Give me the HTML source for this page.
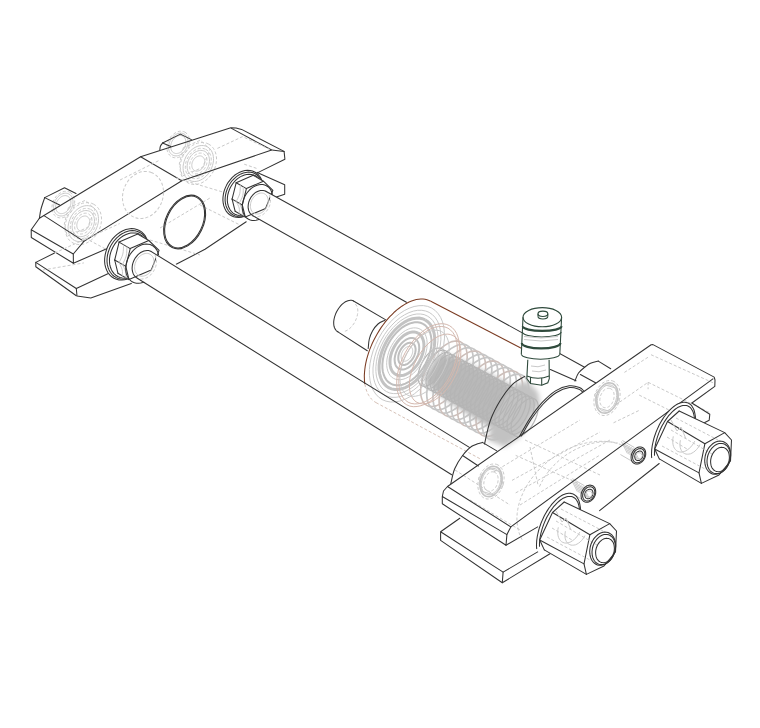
<!DOCTYPE html>
<html><head><meta charset="utf-8"><style>
html,body{margin:0;padding:0;background:#fff;}
svg{display:block;}
.k{fill:none;stroke:#333;stroke-width:1.05;stroke-linejoin:round;stroke-linecap:round;}
.g{fill:none;stroke:#c9c9c9;stroke-width:1;}
.gd{fill:none;stroke:#c9c9c9;stroke-width:1;stroke-dasharray:3 2;}
.b{fill:none;stroke:#7a3b22;stroke-width:1.05;}
.v{fill:none;stroke:#2f4a3c;stroke-width:1.1;}
.wf{fill:#fff;stroke:none;}
.gf{fill:#b9b9b9;stroke:none;}
.gf2{fill:#c2c2c2;stroke:none;}
.gc{fill:none;stroke:#c6c6c6;stroke-width:1.7;}
.gcb{fill:none;stroke:#cdbfba;stroke-width:1.6;}
.gc2{fill:none;stroke:#b5b5b5;stroke-width:1.2;}
.gt{fill:none;stroke:#bfbfbf;stroke-width:2;}
.gt3{fill:none;stroke:#c3c3c3;stroke-width:3;}
.gt2{fill:none;stroke:#c4c4c4;stroke-width:1.6;}
.bl{fill:none;stroke:#d4b8ae;stroke-width:1;}
.bd{fill:none;stroke:#d6c2b8;stroke-width:1;stroke-dasharray:3 2;}
.vt{fill:none;stroke:#2f4a3c;stroke-width:2.2;}
</style></head><body>
<svg width="760" height="728" viewBox="0 0 760 728"><defs><filter id="blr" x="-20%" y="-20%" width="140%" height="140%"><feGaussianBlur stdDeviation="2.5"/></filter></defs>
<polygon class="gd" points="183.4,147.6 200.4,140.2 209.9,149.3 202.6,167.4 182.3,176.1 179.3,164"/>
<polyline class="gd" points="208.6,144.1 210.5,145.3 212.2,146.8 213.6,148.6 214.7,150.7 215.6,152.9 216.2,155.4 216.5,158 216.5,160.7 216.1,163.4 215.5,166.2 214.5,168.9 213.3,171.5 211.8,173.9 210.1,176.2 208.2,178.3 206.1,180.1 203.9,181.7 201.6,182.9 199.2,183.8 196.9,184.3 194.5,184.5 192.2,184.3 190,183.8 188,182.9 186.1,181.7 184.4,180.2 183,178.4 181.9,176.3 181,174.1 180.4,171.6 180.1,169 180.1,166.3 180.5,163.6 181.1,160.8 182.1,158.1 183.3,155.5 184.8,153.1 186.5,150.8 188.4,148.7 190.5,146.9 192.7,145.3 195,144.1 197.4,143.2 199.7,142.7 202.1,142.5 204.4,142.7 206.6,143.2 208.6,144.1"/>
<polyline class="g" points="207.2,146.7 208.8,147.7 210.1,149 211.3,150.5 212.2,152.3 212.9,154.2 213.3,156.3 213.5,158.5 213.5,160.8 213.1,163.2 212.5,165.5 211.7,167.8 210.7,170.1 209.4,172.2 207.9,174.2 206.3,176 204.5,177.6 202.7,178.9 200.7,180 198.7,180.8 196.8,181.3 194.8,181.5 192.9,181.4 191.1,181 189.4,180.3 187.8,179.3 186.5,178 185.3,176.5 184.4,174.7 183.7,172.8 183.3,170.7 183.1,168.5 183.1,166.2 183.5,163.8 184.1,161.5 184.9,159.2 185.9,156.9 187.2,154.8 188.7,152.8 190.3,151 192.1,149.4 193.9,148.1 195.9,147 197.9,146.2 199.8,145.7 201.8,145.5 203.7,145.6 205.5,146 207.2,146.7"/>
<polyline class="gd" points="205.8,149.4 207.1,150.2 208.3,151.3 209.3,152.6 210.1,154.1 210.7,155.7 211.1,157.5 211.3,159.4 211.2,161.3 211,163.3 210.5,165.3 209.8,167.2 208.9,169.1 207.8,170.9 206.6,172.6 205.2,174.1 203.7,175.4 202.1,176.6 200.5,177.5 198.8,178.1 197.1,178.6 195.4,178.7 193.8,178.6 192.2,178.2 190.8,177.6 189.5,176.8 188.3,175.7 187.3,174.4 186.5,172.9 185.9,171.3 185.5,169.5 185.3,167.6 185.4,165.7 185.6,163.7 186.1,161.7 186.8,159.8 187.7,157.9 188.8,156.1 190,154.4 191.4,152.9 192.9,151.6 194.5,150.4 196.1,149.5 197.8,148.9 199.5,148.4 201.2,148.3 202.8,148.4 204.4,148.8 205.8,149.4"/>
<polyline class="g" points="204.8,151.3 205.9,152.1 206.9,153 207.8,154.1 208.5,155.4 209,156.8 209.3,158.3 209.5,159.9 209.4,161.6 209.2,163.3 208.8,165 208.2,166.7 207.4,168.3 206.5,169.9 205.4,171.3 204.2,172.6 202.9,173.8 201.6,174.8 200.1,175.5 198.7,176.1 197.2,176.5 195.8,176.6 194.4,176.5 193.1,176.2 191.8,175.7 190.7,174.9 189.7,174 188.8,172.9 188.1,171.6 187.6,170.2 187.3,168.7 187.1,167.1 187.2,165.4 187.4,163.7 187.8,162 188.4,160.3 189.2,158.7 190.1,157.1 191.2,155.7 192.4,154.4 193.7,153.2 195,152.2 196.5,151.5 197.9,150.9 199.4,150.5 200.8,150.4 202.2,150.5 203.5,150.8 204.8,151.3"/>
<polyline class="gd" points="203.5,153.8 204.3,154.4 205.1,155.1 205.8,156 206.3,157 206.7,158.1 206.9,159.3 207,160.6 207,161.9 206.8,163.3 206.5,164.6 206,166 205.4,167.3 204.6,168.5 203.8,169.6 202.8,170.7 201.8,171.6 200.8,172.4 199.6,173 198.5,173.5 197.4,173.8 196.2,173.9 195.1,173.9 194.1,173.6 193.1,173.2 192.3,172.6 191.5,171.9 190.8,171 190.3,170 189.9,168.9 189.7,167.7 189.6,166.4 189.6,165.1 189.8,163.7 190.1,162.4 190.6,161 191.2,159.7 192,158.5 192.8,157.4 193.8,156.3 194.8,155.4 195.8,154.6 197,154 198.1,153.5 199.2,153.2 200.4,153.1 201.5,153.1 202.5,153.4 203.5,153.8"/>
<polyline class="g" points="202.1,156.4 202.7,156.9 203.3,157.4 203.8,158.1 204.2,158.8 204.5,159.6 204.7,160.5 204.8,161.4 204.8,162.4 204.6,163.4 204.4,164.4 204,165.4 203.6,166.3 203.1,167.2 202.4,168 201.8,168.8 201,169.5 200.2,170 199.4,170.5 198.5,170.8 197.7,171 196.9,171.1 196,171.1 195.3,170.9 194.5,170.6 193.9,170.1 193.3,169.6 192.8,168.9 192.4,168.2 192.1,167.4 191.9,166.5 191.8,165.6 191.8,164.6 192,163.6 192.2,162.6 192.6,161.6 193,160.7 193.5,159.8 194.2,159 194.8,158.2 195.6,157.5 196.4,157 197.2,156.5 198.1,156.2 198.9,156 199.7,155.9 200.6,155.9 201.3,156.1 202.1,156.4"/>
<polyline class="g" points="183.9,133.9 184.9,134.5 185.8,135.4 186.5,136.3 187.2,137.4 187.6,138.7 187.9,140 188,141.4 188,142.9 187.8,144.3 187.4,145.8 186.9,147.3 186.2,148.7 185.4,150.1 184.5,151.3 183.5,152.5 182.4,153.5 181.2,154.3 179.9,155 178.7,155.5 177.4,155.8 176.1,155.9 174.9,155.8 173.8,155.6 172.7,155.1 171.7,154.5 170.8,153.6 170.1,152.7 169.4,151.6 169,150.3 168.7,149 168.6,147.6 168.6,146.1 168.8,144.7 169.2,143.2 169.7,141.7 170.4,140.3 171.2,138.9 172.1,137.7 173.1,136.5 174.2,135.5 175.4,134.7 176.7,134 177.9,133.5 179.2,133.2 180.5,133.1 181.7,133.2 182.8,133.4 183.9,133.9"/>
<polyline class="g" points="182.8,136.1 183.5,136.6 184.2,137.2 184.8,138 185.3,138.9 185.6,139.8 185.8,140.9 185.9,142 185.9,143.2 185.7,144.3 185.4,145.5 185,146.7 184.5,147.8 183.8,148.9 183.1,149.8 182.3,150.7 181.4,151.5 180.5,152.2 179.5,152.8 178.5,153.2 177.5,153.4 176.5,153.5 175.6,153.5 174.7,153.2 173.8,152.9 173.1,152.4 172.4,151.8 171.8,151 171.3,150.1 171,149.2 170.8,148.1 170.7,147 170.7,145.8 170.9,144.7 171.2,143.5 171.6,142.3 172.1,141.2 172.8,140.1 173.5,139.2 174.3,138.3 175.2,137.5 176.1,136.8 177.1,136.2 178.1,135.8 179.1,135.6 180.1,135.5 181,135.5 181.9,135.8 182.8,136.1"/>
<polyline class="gd" points="184.9,132.1 186,132.9 187,133.8 187.9,135 188.6,136.3 189.2,137.7 189.5,139.2 189.7,140.9 189.6,142.6 189.4,144.3 189,146.1 188.3,147.8 187.6,149.4 186.6,151 185.6,152.5 184.4,153.8 183,154.9 181.7,155.9 180.2,156.7 178.7,157.3 177.2,157.7 175.8,157.8 174.4,157.7 173,157.4 171.7,156.9 170.6,156.1 169.6,155.2 168.7,154 168,152.7 167.4,151.3 167.1,149.8 166.9,148.1 167,146.4 167.2,144.7 167.6,142.9 168.3,141.2 169,139.6 170,138 171,136.5 172.2,135.2 173.6,134.1 174.9,133.1 176.4,132.3 177.9,131.7 179.4,131.3 180.8,131.2 182.2,131.3 183.6,131.6 184.9,132.1"/>
<polygon class="gd" points="68.4,207.7 85.4,200.3 94.9,209.4 87.6,227.5 67.3,236.2 64.3,224.1"/>
<polyline class="gd" points="93.6,204.2 95.5,205.4 97.2,206.9 98.6,208.7 99.7,210.8 100.6,213 101.2,215.5 101.5,218.1 101.5,220.8 101.1,223.5 100.5,226.3 99.5,229 98.3,231.6 96.8,234 95.1,236.3 93.2,238.4 91.1,240.2 88.9,241.8 86.6,243 84.2,243.9 81.9,244.4 79.5,244.6 77.2,244.4 75,243.9 73,243 71.1,241.8 69.4,240.3 68,238.5 66.9,236.4 66,234.2 65.4,231.7 65.1,229.1 65.1,226.4 65.5,223.7 66.1,220.9 67.1,218.2 68.3,215.6 69.8,213.2 71.5,210.9 73.4,208.8 75.5,207 77.7,205.4 80,204.2 82.4,203.3 84.7,202.8 87.1,202.6 89.4,202.8 91.6,203.3 93.6,204.2"/>
<polyline class="g" points="92.2,206.8 93.8,207.8 95.1,209.1 96.3,210.6 97.2,212.4 97.9,214.3 98.3,216.4 98.5,218.6 98.5,220.9 98.1,223.3 97.5,225.6 96.7,227.9 95.7,230.2 94.4,232.3 92.9,234.3 91.3,236.1 89.5,237.7 87.7,239 85.7,240.1 83.7,240.9 81.8,241.4 79.8,241.6 77.9,241.5 76.1,241.1 74.4,240.4 72.8,239.4 71.5,238.1 70.3,236.6 69.4,234.8 68.7,232.9 68.3,230.8 68.1,228.6 68.1,226.3 68.5,223.9 69.1,221.6 69.9,219.3 70.9,217 72.2,214.9 73.7,212.9 75.3,211.1 77.1,209.5 78.9,208.2 80.9,207.1 82.9,206.3 84.8,205.8 86.8,205.6 88.7,205.7 90.5,206.1 92.2,206.8"/>
<polyline class="gd" points="90.8,209.5 92.1,210.3 93.3,211.4 94.3,212.7 95.1,214.2 95.7,215.8 96.1,217.6 96.3,219.5 96.2,221.4 96,223.4 95.5,225.4 94.8,227.3 93.9,229.2 92.8,231 91.6,232.7 90.2,234.2 88.7,235.5 87.1,236.7 85.5,237.6 83.8,238.2 82.1,238.7 80.4,238.8 78.8,238.7 77.2,238.3 75.8,237.7 74.5,236.9 73.3,235.8 72.3,234.5 71.5,233 70.9,231.4 70.5,229.6 70.3,227.7 70.4,225.8 70.6,223.8 71.1,221.8 71.8,219.9 72.7,218 73.8,216.2 75,214.5 76.4,213 77.9,211.7 79.5,210.5 81.1,209.6 82.8,209 84.5,208.5 86.2,208.4 87.8,208.5 89.4,208.9 90.8,209.5"/>
<polyline class="g" points="89.8,211.4 90.9,212.2 91.9,213.1 92.8,214.2 93.5,215.5 94,216.9 94.3,218.4 94.5,220 94.4,221.7 94.2,223.4 93.8,225.1 93.2,226.8 92.4,228.4 91.5,230 90.4,231.4 89.2,232.7 87.9,233.9 86.6,234.9 85.1,235.6 83.7,236.2 82.2,236.6 80.8,236.7 79.4,236.6 78.1,236.3 76.8,235.8 75.7,235 74.7,234.1 73.8,233 73.1,231.7 72.6,230.3 72.3,228.8 72.1,227.2 72.2,225.5 72.4,223.8 72.8,222.1 73.4,220.4 74.2,218.8 75.1,217.2 76.2,215.8 77.4,214.5 78.7,213.3 80,212.3 81.5,211.6 82.9,211 84.4,210.6 85.8,210.5 87.2,210.6 88.5,210.9 89.8,211.4"/>
<polyline class="gd" points="88.5,213.9 89.3,214.5 90.1,215.2 90.8,216.1 91.3,217.1 91.7,218.2 91.9,219.4 92,220.7 92,222 91.8,223.4 91.5,224.7 91,226.1 90.4,227.4 89.6,228.6 88.8,229.7 87.8,230.8 86.8,231.7 85.8,232.5 84.6,233.1 83.5,233.6 82.4,233.9 81.2,234 80.1,234 79.1,233.7 78.1,233.3 77.3,232.7 76.5,232 75.8,231.1 75.3,230.1 74.9,229 74.7,227.8 74.6,226.5 74.6,225.2 74.8,223.8 75.1,222.5 75.6,221.1 76.2,219.8 77,218.6 77.8,217.5 78.8,216.4 79.8,215.5 80.8,214.7 82,214.1 83.1,213.6 84.2,213.3 85.4,213.2 86.5,213.2 87.5,213.5 88.5,213.9"/>
<polyline class="g" points="87.1,216.5 87.7,217 88.3,217.5 88.8,218.2 89.2,218.9 89.5,219.7 89.7,220.6 89.8,221.5 89.8,222.5 89.6,223.5 89.4,224.5 89,225.5 88.6,226.4 88.1,227.3 87.4,228.1 86.8,228.9 86,229.6 85.2,230.1 84.4,230.6 83.5,230.9 82.7,231.1 81.9,231.2 81,231.2 80.3,231 79.5,230.7 78.9,230.2 78.3,229.7 77.8,229 77.4,228.3 77.1,227.5 76.9,226.6 76.8,225.7 76.8,224.7 77,223.7 77.2,222.7 77.6,221.7 78,220.8 78.5,219.9 79.2,219.1 79.8,218.3 80.6,217.6 81.4,217.1 82.2,216.6 83.1,216.3 83.9,216.1 84.7,216 85.6,216 86.3,216.2 87.1,216.5"/>
<polyline class="g" points="68.9,194 69.9,194.6 70.8,195.5 71.5,196.4 72.2,197.5 72.6,198.8 72.9,200.1 73,201.5 73,203 72.8,204.4 72.4,205.9 71.9,207.4 71.2,208.8 70.4,210.2 69.5,211.4 68.5,212.6 67.4,213.6 66.2,214.4 64.9,215.1 63.7,215.6 62.4,215.9 61.1,216 59.9,215.9 58.8,215.7 57.7,215.2 56.7,214.6 55.8,213.7 55.1,212.8 54.4,211.7 54,210.4 53.7,209.1 53.6,207.7 53.6,206.2 53.8,204.8 54.2,203.3 54.7,201.8 55.4,200.4 56.2,199 57.1,197.8 58.1,196.6 59.2,195.6 60.4,194.8 61.7,194.1 62.9,193.6 64.2,193.3 65.5,193.2 66.7,193.3 67.8,193.5 68.9,194"/>
<polyline class="g" points="67.8,196.2 68.5,196.7 69.2,197.3 69.8,198.1 70.3,199 70.6,199.9 70.8,201 70.9,202.1 70.9,203.3 70.7,204.4 70.4,205.6 70,206.8 69.5,207.9 68.8,209 68.1,209.9 67.3,210.8 66.4,211.6 65.5,212.3 64.5,212.9 63.5,213.3 62.5,213.5 61.5,213.6 60.6,213.6 59.7,213.3 58.8,213 58.1,212.5 57.4,211.9 56.8,211.1 56.3,210.2 56,209.3 55.8,208.2 55.7,207.1 55.7,205.9 55.9,204.8 56.2,203.6 56.6,202.4 57.1,201.3 57.8,200.2 58.5,199.3 59.3,198.4 60.2,197.6 61.1,196.9 62.1,196.3 63.1,195.9 64.1,195.7 65.1,195.6 66,195.6 66.9,195.9 67.8,196.2"/>
<polyline class="gd" points="69.9,192.2 71,193 72,193.9 72.9,195.1 73.6,196.4 74.2,197.8 74.5,199.3 74.7,201 74.6,202.7 74.4,204.4 74,206.2 73.3,207.9 72.6,209.5 71.6,211.1 70.6,212.6 69.4,213.9 68,215 66.7,216 65.2,216.8 63.7,217.4 62.2,217.8 60.8,217.9 59.4,217.8 58,217.5 56.7,217 55.6,216.2 54.6,215.3 53.7,214.1 53,212.8 52.4,211.4 52.1,209.9 51.9,208.2 52,206.5 52.2,204.8 52.6,203 53.3,201.3 54,199.7 55,198.1 56,196.6 57.2,195.3 58.6,194.2 59.9,193.2 61.4,192.4 62.9,191.8 64.4,191.4 65.8,191.3 67.2,191.4 68.6,191.7 69.9,192.2"/>
<polyline class="k" points="54.6,253 35.8,262.4 35.8,266.8 76.3,295.7"/>
<polyline class="k" points="35.8,262.4 76.3,288.5 108.9,273.3"/>
<polyline class="k" points="76.3,288.5 77,296 90.8,297.9 131.3,283.4"/>
<polyline class="k" points="39.4,218.2 140.6,156.8 230.8,127.7 236,127.9 241.6,129.4 284.1,151.4 284.9,159.3 257.3,172.9"/>
<polyline class="k" points="140.6,156.8 181.8,180.8"/>
<polyline class="k" points="83.9,241.4 181.8,180.8 271.7,150 284.1,151.4"/>
<polyline class="k" points="231.5,128.4 271.7,150"/>
<polyline class="k" points="39.4,218.2 31.2,229.8 31.3,237.5 73.4,263.3 73.3,254 31.2,229.8"/>
<polyline class="k" points="44,215.6 83.9,241.4 73.3,254"/>
<polyline class="k" points="73.4,263.3 106.7,248.7"/>
<path class="k" d="M39.4,218.2 C39.7,216.7 40.1,212.4 41,209 C41.9,205.6 44.1,199.5 44.7,197.6"/>
<polyline class="k" points="44.7,197.6 64.5,187.7 76,193.5"/>
<polyline class="k" points="44.7,197.6 59.6,205"/>
<path class="k" d="M159.8,149.9 C159.9,149.2 160,147.2 160.5,146 C161,144.8 162.2,143.5 162.6,143"/>
<polyline class="k" points="162.6,143 180.4,134.1 191.4,139.6"/>
<polyline class="k" points="162.6,143 170.8,146.5"/>
<polyline class="k" points="257.2,172.4 284.7,184.7 284.7,194.3 276.4,197.1"/>
<polyline class="k" points="246.2,221.8 205,249.3 176.2,264.3"/>
<polyline class="gd" points="54.6,253 119.6,223.6"/>
<polyline class="gd" points="42.9,270 83.9,262.9"/>
<polyline class="gd" points="217.4,148.4 242.6,136.6 272.6,150.8"/>
<polyline class="gd" points="244.2,164.2 258.4,169"/>
<polyline class="gd" points="176,178 226,193"/>
<polyline class="gd" points="200,205 240,225"/>
<polyline class="gd" points="150,240 200,255"/>
<polyline class="gd" points="160,228 210,198"/>
<polyline class="gd" points="120,180 160,160"/>
<polyline class="gd" points="85,238 130,262"/>
<ellipse class="k" cx="184.6" cy="222" rx="28.4" ry="18.8" transform="rotate(-64 184.6 222)"/>
<ellipse class="k" cx="184.6" cy="222" rx="27.4" ry="17.8" transform="rotate(-64 184.6 222)"/>
<ellipse class="gd" cx="143" cy="195" rx="24" ry="20" transform="rotate(-70 143 195)"/>
<polyline class="k" points="337.9,331.8 337,331.3 336.2,330.5 335.5,329.7 334.9,328.6 334.4,327.5 334,326.2 333.8,324.8 333.7,323.3 333.7,321.8 333.9,320.1 334.2,318.5 334.6,316.8 335.2,315.1 335.8,313.4 336.6,311.8 337.5,310.2 338.4,308.7 339.5,307.3 340.6,305.9 341.7,304.7 342.9,303.6 344.2,302.6 345.4,301.8 346.7,301.2 347.9,300.7 349.1,300.4 350.3,300.3 351.4,300.3 352.5,300.6 353.5,301"/>
<polyline class="k" points="353.5,301 385.8,319.9"/>
<polyline class="k" points="337.9,331.9 367.3,350.7"/>
<polyline class="gd" points="355.3,304.1 356.2,305.1 356.9,306.2 357.4,307.6 357.7,309.1 357.8,310.8 357.8,312.6 357.5,314.4 357.1,316.4 356.5,318.3 355.7,320.2 354.8,322.1 353.7,323.9 352.5,325.5 351.3,327 349.9,328.3 348.5,329.5 347.1,330.4 345.6,331 344.2,331.5 342.9,331.6"/>
<polyline class="gcb" points="461,342.1 463.2,343.8 465,346.3 466.3,349.4 467,353.1 467.2,357.4 466.7,362 465.8,367 464.2,372.1 462.2,377.2 459.7,382.3 456.8,387.2 453.7,391.7 450.2,395.7 446.6,399.3 443,402.2 439.4,404.4 435.8,405.9 432.5,406.5 429.5,406.4 426.8,405.4 424.5,403.7 422.7,401.2 421.5,398.1 420.7,394.4 420.6,390.1 421,385.5 422,380.5 423.5,375.4 425.6,370.3 428,365.2 430.9,360.3 434.1,355.8 437.5,351.7 441.1,348.2 444.8,345.3 448.4,343.1 451.9,341.6 455.2,341 458.3,341.1 461,342.1"/>
<polyline class="gc" points="467.1,345.4 469.4,347.1 471.2,349.6 472.5,352.7 473.2,356.5 473.3,360.7 472.9,365.4 471.9,370.3 470.4,375.4 468.4,380.6 465.9,385.6 463,390.5 459.8,395 456.4,399.1 452.8,402.6 449.1,405.5 445.5,407.7 442,409.2 438.7,409.8 435.6,409.7 432.9,408.8 430.7,407 428.9,404.6 427.6,401.4 426.9,397.7 426.7,393.4 427.2,388.8 428.2,383.8 429.7,378.7 431.7,373.6 434.2,368.5 437.1,363.7 440.3,359.2 443.7,355.1 447.3,351.5 450.9,348.6 454.6,346.4 458.1,345 461.4,344.3 464.5,344.4 467.1,345.4"/>
<polyline class="gc" points="473.3,348.7 475.6,350.4 477.4,352.9 478.6,356.1 479.3,359.8 479.5,364 479.1,368.7 478.1,373.6 476.5,378.7 474.5,383.9 472,388.9 469.2,393.8 466,398.3 462.5,402.4 459,405.9 455.3,408.8 451.7,411.1 448.2,412.5 444.8,413.2 441.8,413 439.1,412.1 436.8,410.4 435,407.9 433.8,404.7 433.1,401 432.9,396.8 433.3,392.1 434.3,387.2 435.9,382.1 437.9,376.9 440.4,371.8 443.2,367 446.4,362.5 449.8,358.4 453.4,354.9 457.1,352 460.7,349.7 464.2,348.3 467.6,347.6 470.6,347.8 473.3,348.7"/>
<polyline class="gcb" points="479.5,352 481.7,353.8 483.5,356.2 484.8,359.4 485.5,363.1 485.7,367.4 485.2,372 484.2,377 482.7,382.1 480.7,387.2 478.2,392.3 475.3,397.1 472.1,401.6 468.7,405.7 465.1,409.3 461.5,412.2 457.8,414.4 454.3,415.8 451,416.5 447.9,416.4 445.3,415.4 443,413.7 441.2,411.2 439.9,408.1 439.2,404.3 439.1,400.1 439.5,395.4 440.5,390.5 442,385.4 444,380.2 446.5,375.2 449.4,370.3 452.6,365.8 456,361.7 459.6,358.2 463.3,355.3 466.9,353.1 470.4,351.6 473.7,351 476.8,351.1 479.5,352"/>
<polyline class="gc" points="485.6,355.4 487.9,357.1 489.7,359.6 490.9,362.7 491.7,366.4 491.8,370.7 491.4,375.3 490.4,380.3 488.9,385.4 486.8,390.5 484.4,395.6 481.5,400.4 478.3,405 474.9,409 471.3,412.6 467.6,415.5 464,417.7 460.5,419.2 457.2,419.8 454.1,419.7 451.4,418.7 449.2,417 447.4,414.5 446.1,411.4 445.4,407.7 445.2,403.4 445.7,398.8 446.6,393.8 448.2,388.7 450.2,383.6 452.7,378.5 455.5,373.6 458.7,369.1 462.2,365 465.8,361.5 469.4,358.6 473,356.4 476.6,354.9 479.9,354.3 482.9,354.4 485.6,355.4"/>
<polyline class="gc" points="491.8,358.7 494,360.4 495.8,362.9 497.1,366 497.8,369.8 498,374 497.5,378.7 496.6,383.6 495,388.7 493,393.9 490.5,398.9 487.6,403.8 484.5,408.3 481,412.4 477.4,415.9 473.8,418.8 470.2,421 466.6,422.5 463.3,423.1 460.3,423 457.6,422.1 455.3,420.3 453.5,417.9 452.3,414.7 451.5,411 451.4,406.7 451.8,402.1 452.8,397.1 454.3,392 456.4,386.9 458.8,381.8 461.7,377 464.9,372.5 468.3,368.4 471.9,364.8 475.6,361.9 479.2,359.7 482.7,358.3 486,357.6 489.1,357.7 491.8,358.7"/>
<polyline class="gcb" points="497.9,362 500.2,363.7 502,366.2 503.3,369.4 504,373.1 504.1,377.3 503.7,382 502.7,386.9 501.2,392 499.2,397.2 496.7,402.2 493.8,407.1 490.6,411.6 487.2,415.7 483.6,419.2 479.9,422.1 476.3,424.4 472.8,425.8 469.5,426.5 466.4,426.3 463.7,425.4 461.5,423.7 459.7,421.2 458.4,418 457.7,414.3 457.5,410.1 458,405.4 459,400.5 460.5,395.4 462.5,390.2 465,385.1 467.9,380.3 471.1,375.8 474.5,371.7 478.1,368.2 481.7,365.3 485.4,363 488.9,361.6 492.2,360.9 495.3,361.1 497.9,362"/>
<polyline class="gc" points="504.1,365.3 506.4,367.1 508.2,369.5 509.4,372.7 510.1,376.4 510.3,380.7 509.9,385.3 508.9,390.3 507.3,395.4 505.3,400.5 502.8,405.6 500,410.4 496.8,414.9 493.3,419 489.8,422.6 486.1,425.5 482.5,427.7 479,429.1 475.6,429.8 472.6,429.7 469.9,428.7 467.6,427 465.8,424.5 464.6,421.4 463.9,417.6 463.7,413.4 464.1,408.7 465.1,403.8 466.7,398.7 468.7,393.5 471.2,388.5 474,383.6 477.2,379.1 480.6,375 484.2,371.5 487.9,368.6 491.5,366.4 495,364.9 498.4,364.3 501.4,364.4 504.1,365.3"/>
<polyline class="gc" points="510.3,368.7 512.5,370.4 514.3,372.9 515.6,376 516.3,379.7 516.5,384 516,388.6 515,393.6 513.5,398.7 511.5,403.8 509,408.9 506.1,413.7 502.9,418.3 499.5,422.3 495.9,425.9 492.3,428.8 488.6,431 485.1,432.5 481.8,433.1 478.7,433 476.1,432 473.8,430.3 472,427.8 470.7,424.7 470,421 469.9,416.7 470.3,412.1 471.3,407.1 472.8,402 474.8,396.9 477.3,391.8 480.2,386.9 483.4,382.4 486.8,378.3 490.4,374.8 494,371.9 497.7,369.7 501.2,368.2 504.5,367.6 507.6,367.7 510.3,368.7"/>
<polyline class="gcb" points="516.4,372 518.7,373.7 520.5,376.2 521.7,379.3 522.5,383.1 522.6,387.3 522.2,392 521.2,396.9 519.7,402 517.6,407.2 515.2,412.2 512.3,417.1 509.1,421.6 505.7,425.7 502.1,429.2 498.4,432.1 494.8,434.3 491.3,435.8 488,436.4 484.9,436.3 482.2,435.4 480,433.6 478.2,431.2 476.9,428 476.2,424.3 476,420 476.5,415.4 477.4,410.4 479,405.3 481,400.2 483.5,395.1 486.3,390.3 489.5,385.8 493,381.7 496.6,378.1 500.2,375.2 503.8,373 507.4,371.6 510.7,370.9 513.7,371 516.4,372"/>
<polyline class="gc" points="522.6,375.3 524.8,377 526.6,379.5 527.9,382.7 528.6,386.4 528.8,390.6 528.3,395.3 527.4,400.2 525.8,405.3 523.8,410.5 521.3,415.5 518.4,420.4 515.3,424.9 511.8,429 508.2,432.5 504.6,435.4 501,437.7 497.4,439.1 494.1,439.8 491.1,439.6 488.4,438.7 486.1,437 484.3,434.5 483.1,431.3 482.3,427.6 482.2,423.4 482.6,418.7 483.6,413.8 485.1,408.7 487.2,403.5 489.6,398.4 492.5,393.6 495.7,389.1 499.1,385 502.7,381.5 506.4,378.6 510,376.3 513.5,374.9 516.8,374.2 519.9,374.4 522.6,375.3"/>
<g filter="url(#blr)">
<polygon class="gf" points="438.2,354.8 452.5,355.7 475,366.7 501.8,380 523.8,391.9 536.1,400.8 517,440.5 501,434.2 479.5,421.4 454.1,405.4 433.5,390.9 423.1,378.5"/>
<polygon class="gf2" points="488,440 493,418 503,398 515,385 527,381 538,392 540,404 531,418 521,436 505,447"/>
</g>
<polyline class="gc2" points="441.5,348.6 443.1,349.9 444.3,351.9 445,354.5 445.1,357.6 444.8,361 443.9,364.6 442.6,368.4 440.8,372.1 438.7,375.6 436.3,378.8 433.7,381.5 431,383.7 428.4,385.2 425.9,386.1 423.6,386.2 421.6,385.6 420,384.3 418.8,382.3 418.1,379.7 418,376.6 418.3,373.2 419.2,369.6 420.6,365.8 422.3,362.1 424.4,358.6 426.8,355.4 429.4,352.7 432.1,350.5 434.7,349 437.2,348.1 439.5,348 441.5,348.6"/>
<polyline class="gc2" points="445.6,350.8 447.2,352.1 448.4,354.1 449,356.7 449.2,359.7 448.8,363.2 448,366.8 446.6,370.6 444.8,374.3 442.7,377.8 440.3,381 437.7,383.7 435.1,385.9 432.4,387.4 429.9,388.3 427.6,388.4 425.6,387.8 424,386.4 422.9,384.4 422.2,381.9 422,378.8 422.4,375.4 423.3,371.7 424.6,368 426.4,364.3 428.5,360.8 430.9,357.6 433.5,354.9 436.1,352.7 438.8,351.1 441.3,350.3 443.6,350.2 445.6,350.8"/>
<polyline class="gc2" points="449.6,353 451.2,354.3 452.4,356.3 453.1,358.9 453.2,361.9 452.9,365.3 452,369 450.7,372.8 448.9,376.5 446.8,380 444.4,383.1 441.8,385.9 439.1,388.1 436.5,389.6 434,390.5 431.7,390.6 429.7,389.9 428.1,388.6 426.9,386.6 426.2,384.1 426.1,381 426.4,377.6 427.3,373.9 428.6,370.2 430.4,366.5 432.5,363 434.9,359.8 437.5,357.1 440.2,354.9 442.8,353.3 445.3,352.5 447.6,352.4 449.6,353"/>
<polyline class="gc2" points="453.7,355.2 455.3,356.5 456.5,358.5 457.1,361.1 457.3,364.1 456.9,367.5 456.1,371.2 454.7,374.9 452.9,378.6 450.8,382.2 448.4,385.3 445.8,388.1 443.2,390.2 440.5,391.8 438,392.6 435.7,392.8 433.7,392.1 432.1,390.8 431,388.8 430.3,386.2 430.1,383.2 430.5,379.8 431.3,376.1 432.7,372.4 434.5,368.7 436.6,365.2 439,362 441.6,359.2 444.2,357.1 446.9,355.5 449.4,354.7 451.7,354.6 453.7,355.2"/>
<polyline class="gc2" points="457.7,357.4 459.3,358.7 460.5,360.7 461.2,363.2 461.3,366.3 461,369.7 460.1,373.4 458.8,377.1 457,380.8 454.9,384.3 452.5,387.5 449.9,390.3 447.2,392.4 444.6,394 442.1,394.8 439.8,394.9 437.8,394.3 436.2,393 435,391 434.3,388.4 434.2,385.4 434.5,382 435.4,378.3 436.7,374.6 438.5,370.9 440.6,367.3 443,364.2 445.6,361.4 448.3,359.2 450.9,357.7 453.4,356.9 455.7,356.7 457.7,357.4"/>
<polyline class="gc2" points="461.8,359.5 463.4,360.9 464.6,362.9 465.2,365.4 465.4,368.5 465,371.9 464.2,375.6 462.8,379.3 461,383 458.9,386.5 456.5,389.7 453.9,392.4 451.3,394.6 448.6,396.2 446.1,397 443.8,397.1 441.8,396.5 440.2,395.2 439,393.2 438.4,390.6 438.2,387.6 438.6,384.1 439.4,380.5 440.8,376.7 442.6,373 444.7,369.5 447.1,366.3 449.7,363.6 452.3,361.4 455,359.9 457.5,359 459.8,358.9 461.8,359.5"/>
<polyline class="gc2" points="465.8,361.7 467.4,363.1 468.6,365 469.3,367.6 469.4,370.7 469.1,374.1 468.2,377.7 466.9,381.5 465.1,385.2 463,388.7 460.6,391.9 458,394.6 455.3,396.8 452.7,398.3 450.2,399.2 447.9,399.3 445.9,398.7 444.3,397.4 443.1,395.4 442.4,392.8 442.3,389.8 442.6,386.3 443.5,382.7 444.8,378.9 446.6,375.2 448.7,371.7 451.1,368.5 453.7,365.8 456.4,363.6 459,362.1 461.5,361.2 463.8,361.1 465.8,361.7"/>
<polyline class="gc2" points="469.9,363.9 471.5,365.2 472.6,367.2 473.3,369.8 473.5,372.9 473.1,376.3 472.2,379.9 470.9,383.7 469.1,387.4 467,390.9 464.6,394.1 462,396.8 459.4,399 456.7,400.5 454.2,401.4 451.9,401.5 449.9,400.9 448.3,399.5 447.1,397.6 446.5,395 446.3,391.9 446.7,388.5 447.5,384.9 448.9,381.1 450.7,377.4 452.8,373.9 455.2,370.7 457.8,368 460.4,365.8 463.1,364.3 465.6,363.4 467.9,363.3 469.9,363.9"/>
<polyline class="gc2" points="473.9,366.1 475.5,367.4 476.7,369.4 477.4,372 477.5,375 477.2,378.5 476.3,382.1 475,385.9 473.2,389.6 471.1,393.1 468.7,396.3 466.1,399 463.4,401.2 460.8,402.7 458.3,403.6 456,403.7 454,403.1 452.4,401.7 451.2,399.7 450.5,397.2 450.4,394.1 450.7,390.7 451.6,387 452.9,383.3 454.7,379.6 456.8,376.1 459.2,372.9 461.8,370.2 464.5,368 467.1,366.4 469.6,365.6 471.9,365.5 473.9,366.1"/>
<polyline class="gc2" points="478,368.3 479.6,369.6 480.7,371.6 481.4,374.2 481.6,377.2 481.2,380.6 480.3,384.3 479,388.1 477.2,391.8 475.1,395.3 472.7,398.4 470.1,401.2 467.5,403.4 464.8,404.9 462.3,405.7 460,405.9 458,405.2 456.4,403.9 455.2,401.9 454.6,399.4 454.4,396.3 454.8,392.9 455.6,389.2 457,385.5 458.8,381.8 460.9,378.3 463.3,375.1 465.9,372.4 468.5,370.2 471.2,368.6 473.7,367.8 476,367.7 478,368.3"/>
<polyline class="gc2" points="482,370.5 483.6,371.8 484.8,373.8 485.5,376.4 485.6,379.4 485.3,382.8 484.4,386.5 483,390.2 481.3,393.9 479.2,397.4 476.8,400.6 474.2,403.4 471.5,405.5 468.9,407.1 466.4,407.9 464.1,408 462.1,407.4 460.5,406.1 459.3,404.1 458.6,401.5 458.5,398.5 458.8,395.1 459.7,391.4 461,387.7 462.8,384 464.9,380.5 467.3,377.3 469.9,374.5 472.6,372.4 475.2,370.8 477.7,370 480,369.9 482,370.5"/>
<polyline class="gc2" points="486.1,372.7 487.7,374 488.8,376 489.5,378.5 489.7,381.6 489.3,385 488.4,388.7 487.1,392.4 485.3,396.1 483.2,399.6 480.8,402.8 478.2,405.5 475.6,407.7 472.9,409.3 470.4,410.1 468.1,410.2 466.1,409.6 464.5,408.3 463.3,406.3 462.7,403.7 462.5,400.7 462.9,397.3 463.7,393.6 465.1,389.8 466.8,386.1 469,382.6 471.4,379.5 473.9,376.7 476.6,374.5 479.2,373 481.8,372.2 484.1,372 486.1,372.7"/>
<polyline class="gc2" points="490.1,374.8 491.7,376.2 492.9,378.2 493.6,380.7 493.7,383.8 493.4,387.2 492.5,390.9 491.1,394.6 489.4,398.3 487.3,401.8 484.9,405 482.3,407.7 479.6,409.9 477,411.5 474.5,412.3 472.2,412.4 470.2,411.8 468.5,410.5 467.4,408.5 466.7,405.9 466.5,402.9 466.9,399.4 467.8,395.8 469.1,392 470.9,388.3 473,384.8 475.4,381.6 478,378.9 480.7,376.7 483.3,375.2 485.8,374.3 488.1,374.2 490.1,374.8"/>
<polyline class="gc2" points="494.2,377 495.8,378.4 496.9,380.3 497.6,382.9 497.8,386 497.4,389.4 496.5,393 495.2,396.8 493.4,400.5 491.3,404 488.9,407.2 486.3,409.9 483.7,412.1 481,413.6 478.5,414.5 476.2,414.6 474.2,414 472.6,412.7 471.4,410.7 470.8,408.1 470.6,405 471,401.6 471.8,398 473.2,394.2 474.9,390.5 477.1,387 479.5,383.8 482,381.1 484.7,378.9 487.3,377.4 489.9,376.5 492.2,376.4 494.2,377"/>
<polyline class="gc2" points="498.2,379.2 499.8,380.5 501,382.5 501.7,385.1 501.8,388.1 501.5,391.6 500.6,395.2 499.2,399 497.5,402.7 495.3,406.2 493,409.4 490.4,412.1 487.7,414.3 485.1,415.8 482.6,416.7 480.3,416.8 478.3,416.2 476.6,414.8 475.5,412.9 474.8,410.3 474.6,407.2 475,403.8 475.9,400.2 477.2,396.4 479,392.7 481.1,389.2 483.5,386 486.1,383.3 488.8,381.1 491.4,379.6 493.9,378.7 496.2,378.6 498.2,379.2"/>
<polyline class="gc2" points="502.3,381.4 503.9,382.7 505,384.7 505.7,387.3 505.9,390.3 505.5,393.8 504.6,397.4 503.3,401.2 501.5,404.9 499.4,408.4 497,411.6 494.4,414.3 491.8,416.5 489.1,418 486.6,418.9 484.3,419 482.3,418.4 480.7,417 479.5,415 478.9,412.5 478.7,409.4 479.1,406 479.9,402.3 481.3,398.6 483,394.9 485.2,391.4 487.6,388.2 490.1,385.5 492.8,383.3 495.4,381.7 498,380.9 500.3,380.8 502.3,381.4"/>
<polyline class="gc2" points="506.3,383.6 507.9,384.9 509.1,386.9 509.8,389.5 509.9,392.5 509.6,395.9 508.7,399.6 507.3,403.3 505.6,407 503.4,410.6 501,413.7 498.5,416.5 495.8,418.7 493.2,420.2 490.6,421 488.3,421.2 486.4,420.5 484.7,419.2 483.6,417.2 482.9,414.7 482.7,411.6 483.1,408.2 484,404.5 485.3,400.8 487.1,397.1 489.2,393.6 491.6,390.4 494.2,387.6 496.8,385.5 499.5,383.9 502,383.1 504.3,383 506.3,383.6"/>
<polyline class="gc2" points="510.3,385.8 512,387.1 513.1,389.1 513.8,391.6 514,394.7 513.6,398.1 512.7,401.8 511.4,405.5 509.6,409.2 507.5,412.7 505.1,415.9 502.5,418.7 499.9,420.8 497.2,422.4 494.7,423.2 492.4,423.3 490.4,422.7 488.8,421.4 487.6,419.4 486.9,416.8 486.8,413.8 487.2,410.4 488,406.7 489.4,403 491.1,399.3 493.3,395.7 495.7,392.6 498.2,389.8 500.9,387.7 503.5,386.1 506.1,385.3 508.4,385.1 510.3,385.8"/>
<polyline class="gc2" points="514.4,387.9 516,389.3 517.2,391.3 517.8,393.8 518,396.9 517.6,400.3 516.8,404 515.4,407.7 513.7,411.4 511.5,414.9 509.1,418.1 506.6,420.8 503.9,423 501.3,424.6 498.7,425.4 496.4,425.5 494.4,424.9 492.8,423.6 491.7,421.6 491,419 490.8,416 491.2,412.5 492.1,408.9 493.4,405.1 495.2,401.4 497.3,397.9 499.7,394.7 502.3,392 504.9,389.8 507.6,388.3 510.1,387.4 512.4,387.3 514.4,387.9"/>
<polyline class="gc2" points="518.4,390.1 520.1,391.5 521.2,393.4 521.9,396 522.1,399.1 521.7,402.5 520.8,406.2 519.5,409.9 517.7,413.6 515.6,417.1 513.2,420.3 510.6,423 508,425.2 505.3,426.8 502.8,427.6 500.5,427.7 498.5,427.1 496.9,425.8 495.7,423.8 495,421.2 494.9,418.2 495.2,414.7 496.1,411.1 497.5,407.3 499.2,403.6 501.4,400.1 503.8,396.9 506.3,394.2 509,392 511.6,390.5 514.2,389.6 516.5,389.5 518.4,390.1"/>
<polyline class="gc2" points="522.5,392.3 524.1,393.6 525.3,395.6 525.9,398.2 526.1,401.3 525.7,404.7 524.9,408.3 523.5,412.1 521.8,415.8 519.6,419.3 517.2,422.5 514.7,425.2 512,427.4 509.4,428.9 506.8,429.8 504.5,429.9 502.5,429.3 500.9,428 499.8,426 499.1,423.4 498.9,420.3 499.3,416.9 500.2,413.3 501.5,409.5 503.3,405.8 505.4,402.3 507.8,399.1 510.4,396.4 513,394.2 515.7,392.7 518.2,391.8 520.5,391.7 522.5,392.3"/>
<polyline class="gc2" points="526.5,394.5 528.2,395.8 529.3,397.8 530,400.4 530.2,403.4 529.8,406.9 528.9,410.5 527.6,414.3 525.8,418 523.7,421.5 521.3,424.7 518.7,427.4 516,429.6 513.4,431.1 510.9,432 508.6,432.1 506.6,431.5 505,430.1 503.8,428.1 503.1,425.6 503,422.5 503.3,419.1 504.2,415.4 505.6,411.7 507.3,408 509.5,404.5 511.8,401.3 514.4,398.6 517.1,396.4 519.7,394.8 522.2,394 524.5,393.9 526.5,394.5"/>
<polyline class="gc2" points="530.6,396.7 532.2,398 533.4,400 534,402.6 534.2,405.6 533.8,409 533,412.7 531.6,416.5 529.9,420.2 527.7,423.7 525.3,426.8 522.8,429.6 520.1,431.8 517.5,433.3 514.9,434.2 512.6,434.3 510.6,433.6 509,432.3 507.9,430.3 507.2,427.8 507,424.7 507.4,421.3 508.3,417.6 509.6,413.9 511.4,410.2 513.5,406.7 515.9,403.5 518.5,400.8 521.1,398.6 523.8,397 526.3,396.2 528.6,396.1 530.6,396.7"/>
<polyline class="gc2" points="534.6,398.9 536.2,400.2 537.4,402.2 538.1,404.8 538.2,407.8 537.9,411.2 537,414.9 535.7,418.6 533.9,422.3 531.8,425.9 529.4,429 526.8,431.8 524.1,433.9 521.5,435.5 519,436.3 516.7,436.5 514.7,435.8 513.1,434.5 511.9,432.5 511.2,429.9 511.1,426.9 511.4,423.5 512.3,419.8 513.7,416.1 515.4,412.4 517.5,408.9 519.9,405.7 522.5,402.9 525.2,400.8 527.8,399.2 530.3,398.4 532.6,398.3 534.6,398.9"/>
<polyline class="g" points="431.6,308 435.1,310.4 438.1,313.6 440.6,317.4 442.5,321.8 443.8,326.8 444.4,332.3 444.5,338.1 443.8,344.2 442.6,350.4 440.7,356.7 438.3,363 435.3,369.1 431.8,375 427.9,380.4 423.7,385.5 419.1,389.9 414.4,393.8 409.5,397 404.6,399.4 399.7,401.1 395,401.9 390.4,402 386.1,401.2 382.2,399.6 378.7,397.2 375.7,394 373.2,390.2 371.3,385.8 370.1,380.8 369.4,375.3 369.4,369.5 370,363.4 371.3,357.2 373.1,350.9 375.6,344.6 378.5,338.5 382,332.6 385.9,327.2 390.2,322.1 394.7,317.7 399.4,313.8 404.3,310.6 409.2,308.2 414.1,306.5 418.9,305.7 423.4,305.6 427.7,306.4 431.6,308"/>
<polyline class="g" points="429.2,312.4 432.4,314.6 435.1,317.4 437.4,320.9 439.1,324.9 440.2,329.4 440.8,334.3 440.9,339.6 440.3,345.1 439.2,350.8 437.5,356.5 435.3,362.1 432.6,367.6 429.4,372.9 425.9,377.9 422.1,382.4 418,386.5 413.7,390 409.3,392.8 404.8,395 400.4,396.5 396.1,397.3 392,397.3 388.1,396.6 384.6,395.2 381.4,393 378.7,390.2 376.5,386.7 374.8,382.7 373.6,378.2 373,373.3 373,368 373.6,362.5 374.7,356.8 376.4,351.1 378.6,345.5 381.3,340 384.4,334.7 387.9,329.7 391.8,325.2 395.9,321.1 400.2,317.6 404.6,314.8 409,312.6 413.4,311.1 417.7,310.3 421.8,310.3 425.7,311 429.2,312.4"/>
<polyline class="g" points="427.3,316 430.2,317.9 432.7,320.5 434.8,323.7 436.3,327.4 437.4,331.5 438,336 438,340.8 437.4,345.8 436.4,351 434.9,356.2 432.8,361.4 430.4,366.5 427.5,371.3 424.3,375.8 420.8,380 417,383.7 413.1,386.9 409.1,389.5 405,391.5 401,392.9 397,393.6 393.3,393.6 389.7,393 386.5,391.6 383.6,389.7 381.1,387.1 379.1,383.9 377.5,380.2 376.4,376.1 375.9,371.6 375.9,366.8 376.4,361.8 377.4,356.6 379,351.4 381,346.2 383.5,341.1 386.3,336.3 389.5,331.8 393.1,327.6 396.8,323.9 400.7,320.7 404.8,318.1 408.8,316.1 412.9,314.7 416.8,314 420.6,314 424.1,314.6 427.3,316"/>
<polyline class="gt3" points="425.2,319.9 427.8,321.7 430,324 431.9,326.8 433.3,330.1 434.2,333.8 434.7,337.9 434.7,342.2 434.3,346.7 433.3,351.3 431.9,356 430.1,360.6 427.9,365.1 425.4,369.5 422.5,373.5 419.3,377.2 416,380.6 412.5,383.4 408.8,385.8 405.2,387.6 401.6,388.8 398.1,389.4 394.7,389.5 391.5,388.9 388.6,387.7 386,385.9 383.8,383.6 382,380.8 380.6,377.5 379.6,373.8 379.1,369.7 379.1,365.4 379.6,360.9 380.5,356.3 381.9,351.6 383.7,347 385.9,342.5 388.5,338.1 391.4,334.1 394.5,330.4 397.9,327 401.4,324.2 405,321.8 408.6,320 412.3,318.8 415.8,318.2 419.1,318.1 422.3,318.7 425.2,319.9"/>
<polyline class="gt" points="423.1,323.9 425.4,325.4 427.3,327.5 428.9,330 430.2,332.9 431,336.2 431.5,339.7 431.5,343.5 431.1,347.5 430.2,351.6 429,355.7 427.4,359.8 425.5,363.8 423.2,367.6 420.7,371.2 417.9,374.5 414.9,377.4 411.8,380 408.6,382 405.4,383.6 402.2,384.7 399.1,385.3 396.1,385.3 393.3,384.8 390.8,383.7 388.5,382.2 386.5,380.1 384.9,377.6 383.7,374.7 382.8,371.4 382.4,367.9 382.4,364.1 382.8,360.1 383.6,356 384.8,351.9 386.4,347.8 388.4,343.8 390.6,340 393.2,336.4 396,333.1 398.9,330.2 402,327.6 405.2,325.6 408.4,324 411.6,322.9 414.7,322.3 417.7,322.3 420.5,322.8 423.1,323.9"/>
<polyline class="g" points="420.2,329.2 422.1,330.4 423.7,332.1 425.1,334.2 426.1,336.6 426.8,339.3 427.1,342.2 427.1,345.3 426.8,348.6 426.1,352 425.1,355.4 423.8,358.8 422.2,362 420.3,365.2 418.2,368.1 415.9,370.8 413.5,373.3 410.9,375.3 408.3,377.1 405.7,378.4 403,379.3 400.5,379.7 398,379.7 395.7,379.3 393.6,378.4 391.7,377.2 390.1,375.5 388.8,373.4 387.8,371 387.1,368.3 386.7,365.4 386.7,362.3 387,359 387.7,355.6 388.7,352.2 390,348.8 391.6,345.6 393.5,342.4 395.6,339.5 397.9,336.8 400.3,334.3 402.9,332.3 405.5,330.5 408.2,329.2 410.8,328.3 413.4,327.9 415.8,327.9 418.1,328.3 420.2,329.2"/>
<polyline class="gt3" points="418.1,333.1 419.7,334.2 421,335.6 422.1,337.3 423,339.4 423.6,341.6 423.9,344.1 423.9,346.7 423.6,349.5 423,352.3 422.2,355.1 421.1,358 419.7,360.7 418.2,363.4 416.4,365.8 414.5,368.1 412.4,370.1 410.3,371.9 408.1,373.3 405.9,374.4 403.7,375.2 401.5,375.6 399.5,375.6 397.5,375.2 395.8,374.5 394.2,373.4 392.8,372 391.7,370.3 390.8,368.2 390.3,366 390,363.5 390,360.9 390.2,358.1 390.8,355.3 391.6,352.5 392.8,349.6 394.1,346.9 395.7,344.2 397.4,341.8 399.3,339.5 401.4,337.5 403.5,335.7 405.7,334.3 408,333.2 410.2,332.4 412.3,332 414.4,332 416.3,332.4 418.1,333.1"/>
<polyline class="gt" points="415,338.8 416.1,339.6 417.1,340.6 417.9,341.9 418.6,343.3 419,345 419.2,346.8 419.2,348.7 419,350.7 418.6,352.7 418,354.8 417.2,356.8 416.2,358.8 415.1,360.7 413.8,362.5 412.4,364.2 410.9,365.6 409.4,366.9 407.8,367.9 406.2,368.7 404.6,369.3 403,369.5 401.5,369.5 400.1,369.3 398.8,368.8 397.7,368 396.7,367 395.9,365.7 395.3,364.3 394.9,362.6 394.7,360.8 394.6,358.9 394.9,356.9 395.3,354.9 395.9,352.8 396.7,350.8 397.6,348.8 398.8,346.9 400.1,345.1 401.4,343.4 402.9,342 404.5,340.7 406.1,339.7 407.7,338.9 409.3,338.3 410.8,338.1 412.3,338.1 413.7,338.3 415,338.8"/>
<polyline class="gt" points="412.6,343.2 413.4,343.8 414.1,344.5 414.7,345.4 415.1,346.4 415.4,347.6 415.6,348.8 415.6,350.2 415.4,351.6 415.1,353 414.7,354.5 414.2,355.9 413.5,357.3 412.7,358.7 411.8,359.9 410.8,361.1 409.7,362.1 408.6,363 407.5,363.8 406.4,364.3 405.3,364.7 404.2,364.9 403.1,364.9 402.1,364.7 401.2,364.4 400.4,363.8 399.7,363.1 399.1,362.2 398.7,361.2 398.4,360 398.3,358.8 398.3,357.4 398.4,356 398.7,354.6 399.1,353.1 399.7,351.7 400.4,350.3 401.2,348.9 402.1,347.7 403.1,346.5 404.1,345.5 405.2,344.6 406.3,343.8 407.5,343.3 408.6,342.9 409.7,342.7 410.7,342.7 411.7,342.9 412.6,343.2"/>
<polyline class="g" points="410.7,346.8 411.3,347.1 411.7,347.6 412.1,348.2 412.4,348.9 412.6,349.6 412.7,350.5 412.7,351.4 412.6,352.3 412.4,353.3 412.1,354.3 411.7,355.2 411.3,356.2 410.8,357.1 410.2,357.9 409.5,358.7 408.8,359.4 408.1,360 407.3,360.4 406.6,360.8 405.8,361.1 405.1,361.2 404.4,361.2 403.7,361.1 403.1,360.8 402.6,360.5 402.1,360 401.7,359.4 401.4,358.7 401.2,358 401.1,357.1 401.1,356.2 401.2,355.3 401.4,354.3 401.7,353.3 402.1,352.4 402.6,351.4 403.1,350.5 403.7,349.7 404.3,348.9 405,348.2 405.8,347.6 406.5,347.2 407.3,346.8 408,346.5 408.8,346.4 409.5,346.4 410.1,346.5 410.7,346.8"/>
<polyline class="bl" points="449.4,325.6 452.2,327.6 454.6,330.2 456.6,333.4 458,337.1 459,341.3 459.4,346 459.3,350.9 458.6,356.1 457.4,361.5 455.8,366.9 453.6,372.3 451,377.6 448,382.7 444.7,387.4 441.1,391.8 437.2,395.7 433.2,399.1 429.2,402 425.1,404.2 421,405.7 417.1,406.5 413.3,406.7 409.8,406.1 406.7,404.8 403.8,402.8 401.4,400.2 399.5,397 398,393.3 397.1,389.1 396.7,384.4 396.8,379.5 397.5,374.3 398.6,368.9 400.3,363.5 402.5,358.1 405.1,352.8 408.1,347.7 411.4,343 415,338.6 418.8,334.7 422.8,331.3 426.9,328.4 431,326.2 435.1,324.7 439,323.9 442.7,323.7 446.2,324.3 449.4,325.6"/>
<polyline class="bl" points="448,328.2 450.6,330.1 452.9,332.5 454.7,335.5 456,339 456.9,342.9 457.3,347.2 457.2,351.9 456.6,356.7 455.5,361.7 453.9,366.8 451.9,371.8 449.5,376.8 446.7,381.5 443.6,385.9 440.2,390 436.6,393.7 432.9,396.9 429.1,399.5 425.3,401.6 421.5,403 417.8,403.8 414.3,403.9 411.1,403.4 408.1,402.2 405.5,400.3 403.2,397.9 401.4,394.9 400,391.4 399.2,387.5 398.8,383.2 398.9,378.5 399.5,373.7 400.6,368.7 402.2,363.6 404.2,358.6 406.6,353.6 409.4,348.9 412.5,344.5 415.9,340.4 419.4,336.7 423.2,333.5 427,330.9 430.8,328.8 434.6,327.4 438.3,326.6 441.8,326.5 445,327 448,328.2"/>
<polyline class="bl" points="453.1,335.6 455.4,337.1 457.3,339.3 458.8,341.9 459.9,345 460.6,348.5 460.8,352.4 460.7,356.5 460,360.9 459,365.4 457.5,369.9 455.7,374.5 453.5,378.9 451,383.2 448.2,387.2 445.2,391 442,394.3 438.7,397.2 435.3,399.7 432,401.6 428.6,402.9 425.4,403.7 422.4,403.9 419.6,403.4 417,402.4 414.8,400.9 412.9,398.7 411.4,396.1 410.3,393 409.6,389.5 409.3,385.6 409.5,381.5 410.1,377.1 411.2,372.6 412.6,368.1 414.5,363.5 416.7,359.1 419.2,354.8 422,350.8 425,347 428.2,343.7 431.5,340.8 434.8,338.3 438.2,336.4 441.5,335.1 444.7,334.3 447.8,334.1 450.6,334.6 453.1,335.6"/>
<polyline class="g" points="441.6,331.6 443.8,333.1 445.6,335.2 447.1,337.7 448.2,340.7 448.9,344 449.2,347.7 449,351.6 448.4,355.8 447.5,360 446.1,364.4 444.3,368.7 442.3,372.9 439.9,376.9 437.2,380.7 434.4,384.3 431.3,387.4 428.2,390.2 425,392.5 421.8,394.3 418.6,395.5 415.5,396.2 412.6,396.4 409.9,396 407.4,395 405.3,393.5 403.4,391.4 401.9,388.9 400.8,385.9 400.2,382.6 399.9,378.9 400,375 400.6,370.8 401.6,366.6 403,362.2 404.7,357.9 406.8,353.7 409.2,349.7 411.8,345.9 414.7,342.3 417.7,339.2 420.9,336.4 424.1,334.1 427.3,332.3 430.5,331.1 433.5,330.4 436.4,330.2 439.2,330.6 441.6,331.6"/>
<polyline class="b" points="430.8,301.2 429,300.4 427,299.7 425.1,299.3 423,299.1 420.8,299 418.6,299.2 416.3,299.6 413.9,300.2 411.6,301 409.1,302 406.7,303.3 404.3,304.6 401.8,306.2 399.4,308 396.9,309.9 394.5,312 392.2,314.3 389.8,316.7 387.6,319.2 385.3,321.9 383.2,324.7 381.1,327.6 379.2,330.6 377.3,333.7 375.5,336.9 373.9,340.1 372.3,343.3 370.9,346.6 369.6,349.9 368.4,353.3 367.4,356.6 366.5,359.9 365.8,363.1 365.2,366.4 364.8,369.5 364.5,372.6 364.3,375.6 364.4,378.5 364.5,381.4 364.9,384.1"/>
<polyline class="bd" points="364.9,384.1 365.4,386.6 366,389.1 366.8,391.4 367.7,393.5 368.8,395.5 370,397.3 371.3,398.9 372.8,400.3 374.3,401.5 376,402.6"/>
<polyline class="b" points="430.8,301.2 521.3,348.2"/>
<polyline class="bd" points="376,402.6 481.6,459.6"/>
<path class="k" d="M384.5,320.5 C383.4,321.1 380,322.2 378,324 C376,325.8 373.9,328.5 372.5,331 C371.1,333.5 370,336.1 369.3,339 C368.6,341.9 368.4,346.9 368.2,348.5"/>
<path class="k" d="M484.5,444 C485.5,440 487.8,427.4 490.5,420 C493.2,412.6 497.1,405.5 500.8,399.5 C504.5,393.5 508.8,388 512.8,384.1 C516.8,380.2 522.7,377.7 524.7,376.4"/>
<path class="k" d="M519.6,436.3 C521.3,433.3 526.2,423.9 529.9,418.3 C533.6,412.7 537.5,407.5 541.8,402.9 C546.1,398.3 550.9,393.8 555.5,390.9 C560.1,388 565.2,386.4 569.2,385.8 C573.2,385.2 577.1,386.6 579.5,387.5 C581.9,388.4 583.1,390.3 583.8,390.9"/>
<path class="k" d="M521.4,436 C523.1,433.1 527.9,424.1 531.5,418.8 C535.1,413.5 539,408.4 543.2,404 C547.4,399.6 552.1,395.2 556.5,392.5 C560.9,389.8 565.8,388.2 569.5,387.6 C573.2,387.1 576.8,388.5 579,389.2 C581.2,389.9 581.9,391.5 582.5,392"/>
<polyline class="k" points="550.4,369.5 576,380.7"/>
<polyline class="gd" points="496.6,464.4 498.1,465 499.4,466 500.7,467.2 501.8,468.6 502.6,470.3 503.3,472.1 503.8,474.1 504.1,476.3 504.1,478.5 503.9,480.8 503.5,483.1 502.9,485.4 502.1,487.6 501,489.7 499.9,491.6 498.5,493.4 497,495 495.5,496.3 493.8,497.4 492.1,498.3 490.4,498.8 488.7,499 487,499 485.4,498.6 483.9,498 482.6,497 481.3,495.8 480.2,494.4 479.4,492.7 478.7,490.9 478.2,488.9 477.9,486.7 477.9,484.5 478.1,482.2 478.5,479.9 479.1,477.6 479.9,475.4 481,473.3 482.1,471.4 483.5,469.6 485,468 486.5,466.7 488.2,465.6 489.9,464.7 491.6,464.2 493.3,464 495,464 496.6,464.4"/>
<polyline class="gt2" points="495.8,466.8 497.1,467.3 498.2,468.1 499.2,469.1 500.1,470.4 500.9,471.8 501.4,473.4 501.8,475.1 502,476.9 502.1,478.9 501.9,480.8 501.5,482.8 501,484.7 500.3,486.6 499.4,488.4 498.4,490.1 497.3,491.7 496,493 494.7,494.2 493.3,495.2 491.8,495.9 490.4,496.4 489,496.6 487.6,496.5 486.2,496.2 484.9,495.7 483.8,494.9 482.8,493.9 481.9,492.6 481.1,491.2 480.6,489.6 480.2,487.9 480,486.1 479.9,484.1 480.1,482.2 480.5,480.2 481,478.3 481.7,476.4 482.6,474.6 483.6,472.9 484.7,471.3 486,470 487.3,468.8 488.7,467.8 490.2,467.1 491.6,466.6 493,466.4 494.4,466.5 495.8,466.8"/>
<polyline class="g" points="495.2,468.7 496.3,469.1 497.3,469.8 498.2,470.7 499,471.8 499.6,473 500.1,474.4 500.5,475.9 500.7,477.5 500.7,479.2 500.5,480.9 500.2,482.6 499.7,484.3 499.1,486 498.4,487.6 497.5,489 496.5,490.4 495.4,491.6 494.2,492.6 493,493.4 491.8,494 490.5,494.4 489.2,494.6 488,494.6 486.8,494.3 485.7,493.9 484.7,493.2 483.8,492.3 483,491.2 482.4,490 481.9,488.6 481.5,487.1 481.3,485.5 481.3,483.8 481.5,482.1 481.8,480.4 482.3,478.7 482.9,477 483.6,475.4 484.5,474 485.5,472.6 486.6,471.4 487.8,470.4 489,469.6 490.2,469 491.5,468.6 492.8,468.4 494,468.4 495.2,468.7"/>
<polyline class="gd" points="494.1,472 494.9,472.3 495.7,472.9 496.3,473.5 496.9,474.3 497.4,475.2 497.8,476.3 498,477.4 498.1,478.6 498.2,479.8 498,481.1 497.8,482.3 497.5,483.6 497,484.8 496.4,486 495.8,487.1 495.1,488.1 494.2,489 493.4,489.7 492.5,490.3 491.6,490.8 490.6,491.1 489.7,491.2 488.8,491.2 487.9,491 487.1,490.7 486.3,490.1 485.7,489.5 485.1,488.7 484.6,487.8 484.2,486.7 484,485.6 483.9,484.4 483.8,483.2 484,481.9 484.2,480.7 484.5,479.4 485,478.2 485.6,477 486.2,475.9 486.9,474.9 487.8,474 488.6,473.3 489.5,472.7 490.4,472.2 491.4,471.9 492.3,471.8 493.2,471.8 494.1,472"/>
<polygon class="g" points="503.2,485.1 494.3,495 482.1,491.4 478.8,477.9 487.7,468 499.9,471.6"/>
<polyline class="gd" points="612.6,380.9 614.1,381.5 615.4,382.5 616.7,383.7 617.8,385.1 618.6,386.8 619.3,388.6 619.8,390.6 620.1,392.8 620.1,395 619.9,397.3 619.5,399.6 618.9,401.9 618.1,404.1 617,406.2 615.9,408.1 614.5,409.9 613,411.5 611.5,412.8 609.8,413.9 608.1,414.8 606.4,415.3 604.7,415.5 603,415.5 601.4,415.1 599.9,414.5 598.6,413.5 597.3,412.3 596.2,410.9 595.4,409.2 594.7,407.4 594.2,405.4 593.9,403.2 593.9,401 594.1,398.7 594.5,396.4 595.1,394.1 595.9,391.9 597,389.8 598.1,387.9 599.5,386.1 601,384.5 602.5,383.2 604.2,382.1 605.9,381.2 607.6,380.7 609.3,380.5 611,380.5 612.6,380.9"/>
<polyline class="gt2" points="611.8,383.3 613.1,383.8 614.2,384.6 615.2,385.6 616.1,386.9 616.9,388.3 617.4,389.9 617.8,391.6 618,393.4 618.1,395.4 617.9,397.3 617.5,399.3 617,401.2 616.3,403.1 615.4,404.9 614.4,406.6 613.3,408.2 612,409.5 610.7,410.7 609.3,411.7 607.8,412.4 606.4,412.9 605,413.1 603.6,413 602.2,412.7 600.9,412.2 599.8,411.4 598.8,410.4 597.9,409.1 597.1,407.7 596.6,406.1 596.2,404.4 596,402.6 595.9,400.6 596.1,398.7 596.5,396.7 597,394.8 597.7,392.9 598.6,391.1 599.6,389.4 600.7,387.8 602,386.5 603.3,385.3 604.7,384.3 606.2,383.6 607.6,383.1 609,382.9 610.4,383 611.8,383.3"/>
<polyline class="g" points="611.2,385.2 612.3,385.6 613.3,386.3 614.2,387.2 615,388.3 615.6,389.5 616.1,390.9 616.5,392.4 616.7,394 616.7,395.7 616.5,397.4 616.2,399.1 615.7,400.8 615.1,402.5 614.4,404.1 613.5,405.5 612.5,406.9 611.4,408.1 610.2,409.1 609,409.9 607.8,410.5 606.5,410.9 605.2,411.1 604,411.1 602.8,410.8 601.7,410.4 600.7,409.7 599.8,408.8 599,407.7 598.4,406.5 597.9,405.1 597.5,403.6 597.3,402 597.3,400.3 597.5,398.6 597.8,396.9 598.3,395.2 598.9,393.5 599.6,391.9 600.5,390.5 601.5,389.1 602.6,387.9 603.8,386.9 605,386.1 606.2,385.5 607.5,385.1 608.8,384.9 610,384.9 611.2,385.2"/>
<polyline class="gd" points="610.1,388.5 610.9,388.8 611.7,389.4 612.3,390 612.9,390.8 613.4,391.7 613.8,392.8 614,393.9 614.1,395.1 614.2,396.3 614,397.6 613.8,398.8 613.5,400.1 613,401.3 612.4,402.5 611.8,403.6 611.1,404.6 610.2,405.5 609.4,406.2 608.5,406.8 607.6,407.3 606.6,407.6 605.7,407.7 604.8,407.7 603.9,407.5 603.1,407.2 602.3,406.6 601.7,406 601.1,405.2 600.6,404.3 600.2,403.2 600,402.1 599.9,400.9 599.8,399.7 600,398.4 600.2,397.2 600.5,395.9 601,394.7 601.6,393.5 602.2,392.4 602.9,391.4 603.8,390.5 604.6,389.8 605.5,389.2 606.4,388.7 607.4,388.4 608.3,388.3 609.2,388.3 610.1,388.5"/>
<polygon class="g" points="619.2,401.6 610.3,411.5 598.1,407.9 594.8,394.4 603.7,384.5 615.9,388.1"/>
<polyline class="gd" points="522.1,539.7 520.5,536.4 519.1,532.9 518.1,529.2 517.4,525.4 517,521.5 516.9,517.5 517.2,513.4 517.8,509.2 518.7,505 519.9,500.8 521.4,496.6 523.2,492.4 525.3,488.3 527.7,484.2 530.3,480.2 533.2,476.4 536.4,472.6 539.7,469 543.3,465.5 547.1,462.2 551,459.1 555.1,456.2 559.4,453.6 563.7,451.1 568.2,448.9 572.7,447 577.2,445.4 581.8,444 586.4,442.9 591,442 595.5,441.5 600,441.3 604.3,441.3 608.6,441.7 612.8,442.3 616.8,443.3 620.6,444.5 624.2,446 627.7,447.7 630.9,449.8"/>
<polyline class="gd" points="539.5,486.6 540.8,483.7 542.3,480.9 543.9,478.2 545.6,475.5 547.5,472.8 549.5,470.2 551.7,467.7 554,465.2 556.4,462.9 558.9,460.6 561.5,458.4 564.2,456.3 567,454.4 569.9,452.6 572.8,450.9 575.7,449.3 578.8,447.9 581.8,446.6 584.9,445.4 588,444.4 591.1,443.6 594.2,442.9 597.3,442.4 600.4,442 603.4,441.8 606.4,441.7 609.3,441.8 612.2,442.1 615,442.5 617.8,443.1"/>
<polyline class="gd" points="512,480.4 600,432"/>
<polyline class="gd" points="515.7,492.9 610,440"/>
<polyline class="gd" points="515.7,455.4 580,484"/>
<polyline class="gd" points="525,440 600,475"/>
<polyline class="gd" points="493.8,471.9 580,420"/>
<polyline class="gd" points="651,354.7 714.2,383.3"/>
<polyline class="gd" points="624.4,372.4 649,356.6"/>
<polyline class="gd" points="648.1,382.3 710.3,412.9"/>
<polyline class="gd" points="648.1,382.3 648.1,389.2"/>
<polyline class="gd" points="639.2,395.1 706.3,428.7"/>
<polyline class="gd" points="615.5,405 648.1,382.3"/>
<polyline class="gd" points="613.5,422.8 640,410"/>
<polyline class="gd" points="520,505 600,455"/>
<polyline class="gd" points="470,500 520,530"/>
<polyline class="gd" points="455,470 510,505"/>
<polyline class="gd" points="530,447 538,485"/>
<polyline class="gd" points="545,520 590,548"/>
<polyline class="gd" points="560,500 600,520"/>
<polyline class="g" points="571.4,479.7 577.4,491.7"/>
<polyline class="g" points="573.4,480.9 579.4,492.9"/>
<polyline class="g" points="575.4,482 581.4,494"/>
<polyline class="g" points="577.4,483.2 583.4,495.2"/>
<polyline class="g" points="579.4,484.4 585.4,496.4"/>
<polyline class="g" points="581.4,485.5 587.4,497.5"/>
<polyline class="g" points="583.4,486.7 589.4,498.7"/>
<polyline class="g" points="572.4,478.7 584.4,485.7"/>
<polyline class="g" points="570.4,492.7 582.4,499.7"/>
<polyline class="k" points="592.6,485.8 593.4,486.2 594,486.9 594.6,487.6 595.1,488.4 595.4,489.3 595.6,490.3 595.7,491.4 595.7,492.5 595.6,493.6 595.3,494.7 594.9,495.8 594.4,496.9 593.8,497.9 593.1,498.8 592.3,499.7 591.5,500.4 590.6,501.1 589.7,501.6 588.7,501.9 587.7,502.2 586.8,502.3 585.9,502.2 585,502 584.2,501.6 583.4,501.2 582.8,500.5 582.2,499.8 581.7,499 581.4,498.1 581.2,497.1 581.1,496 581.1,494.9 581.2,493.8 581.5,492.7 581.9,491.6 582.4,490.5 583,489.5 583.7,488.6 584.5,487.7 585.3,487 586.2,486.3 587.1,485.8 588.1,485.5 589.1,485.2 590,485.1 590.9,485.2 591.8,485.4 592.6,485.8"/>
<polyline class="k" points="592.2,487.3 592.8,487.7 593.4,488.2 593.8,488.8 594.2,489.5 594.5,490.2 594.7,491.1 594.8,492 594.7,492.9 594.6,493.8 594.4,494.7 594.1,495.6 593.6,496.5 593.1,497.4 592.6,498.2 591.9,498.9 591.2,499.5 590.5,500 589.7,500.4 588.9,500.8 588.1,500.9 587.3,501 586.6,501 585.9,500.8 585.2,500.5 584.6,500.1 584,499.6 583.6,499 583.2,498.3 582.9,497.6 582.7,496.7 582.6,495.8 582.7,494.9 582.8,494 583,493.1 583.3,492.2 583.8,491.3 584.3,490.4 584.8,489.6 585.5,488.9 586.2,488.3 586.9,487.8 587.7,487.4 588.5,487 589.3,486.9 590.1,486.8 590.8,486.8 591.5,487 592.2,487.3"/>
<polyline class="k" points="591.2,489.6 591.7,489.9 592,490.2 592.4,490.6 592.6,491.1 592.8,491.6 592.9,492.1 593,492.7 593,493.3 592.9,494 592.7,494.6 592.5,495.2 592.3,495.8 591.9,496.3 591.5,496.9 591.1,497.3 590.6,497.8 590.1,498.1 589.6,498.4 589.1,498.6 588.5,498.7 588,498.8 587.5,498.7 587,498.6 586.6,498.4 586.1,498.1 585.8,497.8 585.4,497.4 585.2,496.9 585,496.4 584.9,495.9 584.8,495.3 584.8,494.7 584.9,494 585.1,493.4 585.3,492.8 585.5,492.2 585.9,491.7 586.3,491.1 586.7,490.7 587.2,490.2 587.7,489.9 588.2,489.6 588.7,489.4 589.3,489.3 589.8,489.2 590.3,489.3 590.8,489.4 591.2,489.6"/>
<polygon class="g" points="592.4,494 590.6,497 587.1,497 585.4,494 587.1,491 590.6,491"/>
<polyline class="g" points="621.4,441.5 627.4,453.5"/>
<polyline class="g" points="623.4,442.7 629.4,454.7"/>
<polyline class="g" points="625.4,443.8 631.4,455.8"/>
<polyline class="g" points="627.4,445 633.4,457"/>
<polyline class="g" points="629.4,446.2 635.4,458.2"/>
<polyline class="g" points="631.4,447.3 637.4,459.3"/>
<polyline class="g" points="633.4,448.5 639.4,460.5"/>
<polyline class="g" points="622.4,440.5 634.4,447.5"/>
<polyline class="g" points="620.4,454.5 632.4,461.5"/>
<polyline class="k" points="642.6,447.6 643.4,448 644,448.7 644.6,449.4 645.1,450.2 645.4,451.1 645.6,452.1 645.7,453.2 645.7,454.3 645.6,455.4 645.3,456.5 644.9,457.6 644.4,458.7 643.8,459.7 643.1,460.6 642.3,461.5 641.5,462.2 640.6,462.9 639.7,463.4 638.7,463.7 637.7,464 636.8,464.1 635.9,464 635,463.8 634.2,463.4 633.4,463 632.8,462.3 632.2,461.6 631.7,460.8 631.4,459.9 631.2,458.9 631.1,457.8 631.1,456.7 631.2,455.6 631.5,454.5 631.9,453.4 632.4,452.3 633,451.3 633.7,450.4 634.5,449.5 635.3,448.8 636.2,448.1 637.1,447.6 638.1,447.3 639.1,447 640,446.9 640.9,447 641.8,447.2 642.6,447.6"/>
<polyline class="k" points="642.2,449.1 642.8,449.5 643.4,450 643.8,450.6 644.2,451.3 644.5,452 644.7,452.9 644.8,453.8 644.7,454.7 644.6,455.6 644.4,456.5 644.1,457.4 643.6,458.3 643.1,459.2 642.6,460 641.9,460.7 641.2,461.3 640.5,461.8 639.7,462.2 638.9,462.6 638.1,462.7 637.3,462.8 636.6,462.8 635.9,462.6 635.2,462.3 634.6,461.9 634,461.4 633.6,460.8 633.2,460.1 632.9,459.4 632.7,458.5 632.6,457.6 632.7,456.7 632.8,455.8 633,454.9 633.3,454 633.8,453.1 634.3,452.2 634.8,451.4 635.5,450.7 636.2,450.1 636.9,449.6 637.7,449.2 638.5,448.8 639.3,448.7 640.1,448.6 640.8,448.6 641.5,448.8 642.2,449.1"/>
<polyline class="k" points="641.2,451.4 641.7,451.7 642,452 642.4,452.4 642.6,452.9 642.8,453.4 642.9,453.9 643,454.5 643,455.1 642.9,455.8 642.7,456.4 642.5,457 642.3,457.6 641.9,458.1 641.5,458.7 641.1,459.1 640.6,459.6 640.1,459.9 639.6,460.2 639.1,460.4 638.5,460.5 638,460.6 637.5,460.5 637,460.4 636.6,460.2 636.1,459.9 635.8,459.6 635.4,459.2 635.2,458.7 635,458.2 634.9,457.7 634.8,457.1 634.8,456.5 634.9,455.8 635.1,455.2 635.3,454.6 635.5,454 635.9,453.5 636.3,452.9 636.7,452.5 637.2,452 637.7,451.7 638.2,451.4 638.7,451.2 639.3,451.1 639.8,451 640.3,451.1 640.8,451.2 641.2,451.4"/>
<polygon class="g" points="642.4,455.8 640.6,458.8 637.1,458.8 635.4,455.8 637.1,452.8 640.6,452.8"/>
<polyline class="k" points="459.8,518.3 440.6,531.7 440.6,540.4 502.3,582.7 503.1,572.1 440.6,531.7"/>
<polyline class="k" points="503.1,572.1 537.7,551.9"/>
<polyline class="k" points="502.3,582.7 550,553.8"/>
<polyline class="k" points="691.9,403 709.8,414.2 709.2,420.3 704.3,422.8"/>
<path class="k" d="M450.8,483.8 C451.4,481.3 452.7,473.4 454.7,468.7 C456.7,464 459.8,459.2 462.6,455.5 C465.5,451.8 468.5,448.5 471.8,446.3 C475.1,444.1 480.6,443 482.4,442.4"/>
<polyline class="k" points="482.4,442.4 496.8,450.9"/>
<polyline class="k" points="462.6,455.5 478.4,466"/>
<path class="k" d="M574.9,381 C575.5,379.7 576.9,375.3 578.5,373 C580.1,370.7 582.6,368.9 584.6,367.3 C586.6,365.7 588.2,364.3 590.5,363.3 C592.8,362.3 597,361.5 598.3,361.1"/>
<polyline class="k" points="598.3,361.1 610.7,368.7"/>
<polyline class="k" points="580.4,374.5 595.5,382.8"/>
<polyline class="k" points="447.5,486.5 651.1,344.7 653,344.6 714.2,377.1 715,380 714.8,386.4 691.9,403"/>
<polyline class="k" points="712.9,378.9 510.8,526.9"/>
<polyline class="k" points="447.5,486.5 443.5,491 442.3,496.5 442.3,503.8 506,545.2 506.9,534.6 442.3,496.5"/>
<polyline class="k" points="447.5,486.5 510.8,526.9 506.9,534.6"/>
<polyline class="k" points="506,545.2 537.7,526.9"/>
<polyline class="k" points="599.6,510.6 659.2,463.5"/>
<polygon class="wf" points="254.7,172 256.8,173.3 258.6,175 260.2,177 261.4,179.3 262.4,181.9 263,184.6 263.3,187.5 263.2,190.6 262.8,193.6 262.1,196.7 261,199.7 259.6,202.7 258,205.5 256,208 253.9,210.4 251.6,212.5 249.1,214.2 246.5,215.6 243.9,216.6 241.3,217.3 238.7,217.5 236.1,217.3 233.7,216.8 231.5,215.8 229.4,214.5 227.6,212.8 226,210.8 224.8,208.5 223.8,205.9 223.2,203.2 222.9,200.3 223,197.2 223.4,194.2 224.1,191.1 225.2,188.1 226.6,185.1 228.2,182.3 230.2,179.8 232.3,177.4 234.6,175.3 237.1,173.6 239.7,172.2 242.3,171.2 244.9,170.5 247.5,170.3 250.1,170.5 252.5,171 254.7,172"/>
<polyline class="k" points="254.7,172 256.8,173.3 258.6,175 260.2,177 261.4,179.3 262.4,181.9 263,184.6 263.3,187.5 263.2,190.6 262.8,193.6 262.1,196.7 261,199.7 259.6,202.7 258,205.5 256,208 253.9,210.4 251.6,212.5 249.1,214.2 246.5,215.6 243.9,216.6 241.3,217.3 238.7,217.5 236.1,217.3 233.7,216.8 231.5,215.8 229.4,214.5 227.6,212.8 226,210.8 224.8,208.5 223.8,205.9 223.2,203.2 222.9,200.3 223,197.2 223.4,194.2 224.1,191.1 225.2,188.1 226.6,185.1 228.2,182.3 230.2,179.8 232.3,177.4 234.6,175.3 237.1,173.6 239.7,172.2 242.3,171.2 244.9,170.5 247.5,170.3 250.1,170.5 252.5,171 254.7,172"/>
<polygon class="wf" points="255.2,173.7 257.1,175 258.9,176.6 260.3,178.5 261.5,180.7 262.4,183.1 263,185.7 263.3,188.4 263.2,191.3 262.8,194.2 262.1,197.1 261.1,199.9 259.8,202.7 258.3,205.3 256.5,207.8 254.4,210 252.2,211.9 249.9,213.6 247.5,214.9 245,215.9 242.5,216.4 240,216.7 237.6,216.5 235.3,216 233.2,215.1 231.3,213.8 229.5,212.2 228.1,210.3 226.9,208.1 226,205.7 225.4,203.1 225.1,200.4 225.2,197.5 225.6,194.6 226.3,191.7 227.3,188.9 228.6,186.1 230.1,183.5 231.9,181 234,178.8 236.2,176.9 238.5,175.2 240.9,173.9 243.4,172.9 245.9,172.4 248.4,172.1 250.8,172.3 253.1,172.8 255.2,173.7"/>
<polyline class="k" points="255.2,173.7 257.1,175 258.9,176.6 260.3,178.5 261.5,180.7 262.4,183.1 263,185.7 263.3,188.4 263.2,191.3 262.8,194.2 262.1,197.1 261.1,199.9 259.8,202.7 258.3,205.3 256.5,207.8 254.4,210 252.2,211.9 249.9,213.6 247.5,214.9 245,215.9 242.5,216.4 240,216.7 237.6,216.5 235.3,216 233.2,215.1 231.3,213.8 229.5,212.2 228.1,210.3 226.9,208.1 226,205.7 225.4,203.1 225.1,200.4 225.2,197.5 225.6,194.6 226.3,191.7 227.3,188.9 228.6,186.1 230.1,183.5 231.9,181 234,178.8 236.2,176.9 238.5,175.2 240.9,173.9 243.4,172.9 245.9,172.4 248.4,172.1 250.8,172.3 253.1,172.8 255.2,173.7"/>
<polygon class="wf" points="255.4,175.8 257.3,176.9 258.9,178.4 260.3,180.2 261.4,182.2 262.2,184.5 262.8,186.9 263.1,189.5 263,192.1 262.7,194.8 262,197.5 261.1,200.2 259.9,202.8 258.4,205.2 256.7,207.5 254.8,209.6 252.8,211.4 250.6,212.9 248.3,214.1 246,215 243.7,215.6 241.4,215.8 239.1,215.6 237,215.1 235,214.2 233.1,213.1 231.5,211.6 230.1,209.8 229,207.8 228.2,205.5 227.6,203.1 227.3,200.5 227.4,197.9 227.7,195.2 228.4,192.5 229.3,189.8 230.5,187.2 232,184.8 233.7,182.5 235.6,180.4 237.6,178.6 239.8,177.1 242.1,175.9 244.4,175 246.7,174.4 249,174.2 251.3,174.4 253.4,174.9 255.4,175.8"/>
<polyline class="k" points="255.4,175.8 257.3,176.9 258.9,178.4 260.3,180.2 261.4,182.2 262.2,184.5 262.8,186.9 263.1,189.5 263,192.1 262.7,194.8 262,197.5 261.1,200.2 259.9,202.8 258.4,205.2 256.7,207.5 254.8,209.6 252.8,211.4 250.6,212.9 248.3,214.1 246,215 243.7,215.6 241.4,215.8 239.1,215.6 237,215.1 235,214.2 233.1,213.1 231.5,211.6 230.1,209.8 229,207.8 228.2,205.5 227.6,203.1 227.3,200.5 227.4,197.9 227.7,195.2 228.4,192.5 229.3,189.8 230.5,187.2 232,184.8 233.7,182.5 235.6,180.4 237.6,178.6 239.8,177.1 242.1,175.9 244.4,175 246.7,174.4 249,174.2 251.3,174.4 253.4,174.9 255.4,175.8"/>
<polygon class="wf" points="246.4,188.6 263.4,181.2 272.9,190.3 265.6,208.4 245.3,217.1 242.3,205"/>
<polygon class="wf" points="246.4,188.6 263.4,181.2 253.2,175.3 236.2,182.7"/>
<polygon class="wf" points="263.4,181.2 272.9,190.3 262.7,184.4 253.2,175.3"/>
<polygon class="wf" points="272.9,190.3 265.6,208.4 255.4,202.5 262.7,184.4"/>
<polygon class="wf" points="265.6,208.4 245.3,217.1 235.1,211.2 255.4,202.5"/>
<polygon class="wf" points="245.3,217.1 242.3,205 232.1,199.1 235.1,211.2"/>
<polygon class="wf" points="242.3,205 246.4,188.6 236.2,182.7 232.1,199.1"/>
<polyline class="k" points="246.4,188.6 236.2,182.7"/>
<polyline class="k" points="263.4,181.2 253.2,175.3"/>
<polyline class="k" points="245.3,217.1 235.1,211.2"/>
<polyline class="k" points="242.3,205 232.1,199.1"/>
<polyline class="k" points="236.2,182.7 253.2,175.3"/>
<polyline class="k" points="235.1,211.2 232.1,199.1"/>
<polyline class="k" points="232.1,199.1 236.2,182.7"/>
<polygon class="k" points="246.4,188.6 263.4,181.2 272.9,190.3 265.6,208.4 245.3,217.1 242.3,205"/>
<path class="g" d="M239.2,203.2 C239.8,201.9 242.1,198.3 242.8,195.5 C243.5,192.8 243.2,188.3 243.3,186.8"/>
<path class="g" d="M236.2,201.5 C236.8,200.2 239,196.5 239.7,193.8 C240.4,191 240.2,186.5 240.3,185.1"/>
<path class="g" d="M242.2,215.3 C242.2,214.4 242.7,211.8 242.2,209.8 C241.7,207.8 239.7,204.3 239.2,203.2"/>
<path class="g" d="M239.2,213.6 C239.2,212.6 239.7,210 239.2,208 C238.7,206 236.7,202.6 236.2,201.5"/>
<polyline class="k" points="266.4,185.7 268,186.7 269.3,188 270.5,189.5 271.4,191.3 272.1,193.2 272.5,195.3 272.7,197.5 272.7,199.8 272.3,202.2 271.7,204.5 270.9,206.8 269.9,209.1 268.6,211.2 267.1,213.2 265.5,215 263.7,216.6 261.9,217.9 259.9,219 257.9,219.8 256,220.3 254,220.5 252.1,220.4 250.3,220 248.6,219.3 247,218.3 245.7,217 244.5,215.5 243.6,213.7 242.9,211.8 242.5,209.7 242.3,207.5 242.3,205.2 242.7,202.8 243.3,200.5 244.1,198.2 245.1,195.9 246.4,193.8 247.9,191.8 249.5,190 251.3,188.4 253.1,187.1 255.1,186 257.1,185.2 259,184.7 261,184.5 262.9,184.6 264.7,185 266.4,185.7"/>
<polygon class="wf" points="265.8,191.3 266.9,192.1 267.9,193 268.8,194.1 269.5,195.4 270,196.8 270.3,198.3 270.5,199.9 270.4,201.6 270.2,203.3 269.8,205 269.2,206.7 268.4,208.3 267.5,209.9 266.4,211.3 265.2,212.6 263.9,213.8 262.6,214.8 261.1,215.5 259.7,216.1 258.2,216.5 256.8,216.6 255.4,216.5 254.1,216.2 252.8,215.7 288.1,234.5 301.1,210.1"/>
<polyline class="k" points="252.8,215.7 251.7,214.9 250.7,214 249.8,212.9 249.1,211.6 248.6,210.2 248.3,208.7 248.1,207.1 248.2,205.4 248.4,203.7 248.8,202 249.4,200.3 250.2,198.7 251.1,197.1 252.2,195.7 253.4,194.4 254.7,193.2 256,192.2 257.5,191.5 258.9,190.9 260.4,190.5 261.8,190.4 263.2,190.5 264.5,190.8 265.8,191.3"/>
<polyline class="gd" points="265.8,191.3 266.9,192.1 267.9,193 268.8,194.1 269.5,195.4 270,196.8 270.3,198.3 270.5,199.9 270.4,201.6 270.2,203.3 269.8,205 269.2,206.7 268.4,208.3 267.5,209.9 266.4,211.3 265.2,212.6 263.9,213.8 262.6,214.8 261.1,215.5 259.7,216.1 258.2,216.5 256.8,216.6 255.4,216.5 254.1,216.2 252.8,215.7"/>
<polyline class="g" points="264.5,193.8 265.4,194.3 266.2,195.1 266.9,196 267.4,197 267.8,198.1 268.1,199.3 268.2,200.6 268.2,202 268,203.3 267.7,204.7 267.2,206.1 266.6,207.4 265.8,208.6 265,209.8 264,210.8 263,211.7 261.9,212.5 260.8,213.1 259.6,213.6 258.4,213.9 257.3,214 256.2,213.9 255.1,213.7 254.1,213.2 253.2,212.7 252.4,211.9 251.7,211 251.2,210 250.8,208.9 250.5,207.7 250.4,206.4 250.4,205 250.6,203.7 250.9,202.3 251.4,200.9 252,199.6 252.8,198.4 253.6,197.2 254.6,196.2 255.6,195.3 256.7,194.5 257.8,193.9 259,193.4 260.2,193.1 261.3,193 262.4,193.1 263.5,193.3 264.5,193.8"/>
<polygon class="wf" points="139.3,230.5 141.6,231.9 143.6,233.8 145.3,235.9 146.6,238.5 147.7,241.2 148.3,244.2 148.6,247.4 148.6,250.7 148.1,254 147.3,257.4 146.1,260.7 144.6,263.9 142.8,266.9 140.7,269.8 138.4,272.3 135.9,274.6 133.2,276.5 130.4,278 127.5,279.1 124.7,279.8 121.8,280 119,279.9 116.4,279.2 114,278.2 111.7,276.8 109.7,274.9 108,272.7 106.7,270.2 105.6,267.4 104.9,264.4 104.6,261.3 104.7,258 105.2,254.6 106,251.3 107.1,248 108.6,244.8 110.5,241.7 112.5,238.9 114.9,236.4 117.4,234.1 120.1,232.2 122.9,230.7 125.8,229.6 128.6,228.9 131.5,228.6 134.2,228.8 136.9,229.4 139.3,230.5"/>
<polyline class="k" points="139.3,230.5 141.6,231.9 143.6,233.8 145.3,235.9 146.6,238.5 147.7,241.2 148.3,244.2 148.6,247.4 148.6,250.7 148.1,254 147.3,257.4 146.1,260.7 144.6,263.9 142.8,266.9 140.7,269.8 138.4,272.3 135.9,274.6 133.2,276.5 130.4,278 127.5,279.1 124.7,279.8 121.8,280 119,279.9 116.4,279.2 114,278.2 111.7,276.8 109.7,274.9 108,272.7 106.7,270.2 105.6,267.4 104.9,264.4 104.6,261.3 104.7,258 105.2,254.6 106,251.3 107.1,248 108.6,244.8 110.5,241.7 112.5,238.9 114.9,236.4 117.4,234.1 120.1,232.2 122.9,230.7 125.8,229.6 128.6,228.9 131.5,228.6 134.2,228.8 136.9,229.4 139.3,230.5"/>
<polygon class="wf" points="139.8,232.4 141.9,233.7 143.8,235.5 145.4,237.5 146.7,239.9 147.7,242.5 148.4,245.4 148.6,248.4 148.6,251.5 148.2,254.6 147.4,257.8 146.3,260.9 144.9,263.9 143.2,266.8 141.2,269.5 139,271.9 136.6,274 134.1,275.8 131.4,277.2 128.7,278.3 126,278.9 123.3,279.2 120.7,279 118.2,278.4 115.9,277.4 113.7,276 111.9,274.3 110.3,272.2 109,269.9 108,267.2 107.3,264.4 107,261.4 107.1,258.3 107.5,255.1 108.3,252 109.4,248.8 110.8,245.8 112.5,243 114.5,240.3 116.7,237.9 119.1,235.8 121.6,234 124.3,232.6 127,231.5 129.7,230.8 132.4,230.6 135,230.8 137.5,231.4 139.8,232.4"/>
<polyline class="k" points="139.8,232.4 141.9,233.7 143.8,235.5 145.4,237.5 146.7,239.9 147.7,242.5 148.4,245.4 148.6,248.4 148.6,251.5 148.2,254.6 147.4,257.8 146.3,260.9 144.9,263.9 143.2,266.8 141.2,269.5 139,271.9 136.6,274 134.1,275.8 131.4,277.2 128.7,278.3 126,278.9 123.3,279.2 120.7,279 118.2,278.4 115.9,277.4 113.7,276 111.9,274.3 110.3,272.2 109,269.9 108,267.2 107.3,264.4 107,261.4 107.1,258.3 107.5,255.1 108.3,252 109.4,248.8 110.8,245.8 112.5,243 114.5,240.3 116.7,237.9 119.1,235.8 121.6,234 124.3,232.6 127,231.5 129.7,230.8 132.4,230.6 135,230.8 137.5,231.4 139.8,232.4"/>
<polygon class="wf" points="140.1,234.6 142.1,235.8 143.8,237.5 145.4,239.4 146.6,241.6 147.5,244.1 148.1,246.7 148.4,249.5 148.3,252.4 148,255.4 147.2,258.3 146.2,261.2 144.9,264 143.3,266.7 141.5,269.2 139.4,271.4 137.2,273.4 134.8,275 132.3,276.4 129.8,277.4 127.3,278 124.7,278.2 122.3,278 120,277.4 117.8,276.5 115.8,275.2 114,273.6 112.5,271.7 111.3,269.5 110.4,267 109.7,264.4 109.5,261.6 109.5,258.7 109.9,255.7 110.6,252.8 111.6,249.9 113,247 114.5,244.4 116.4,241.9 118.4,239.7 120.7,237.7 123,236 125.5,234.7 128.1,233.7 130.6,233.1 133.1,232.9 135.6,233.1 137.9,233.6 140.1,234.6"/>
<polyline class="k" points="140.1,234.6 142.1,235.8 143.8,237.5 145.4,239.4 146.6,241.6 147.5,244.1 148.1,246.7 148.4,249.5 148.3,252.4 148,255.4 147.2,258.3 146.2,261.2 144.9,264 143.3,266.7 141.5,269.2 139.4,271.4 137.2,273.4 134.8,275 132.3,276.4 129.8,277.4 127.3,278 124.7,278.2 122.3,278 120,277.4 117.8,276.5 115.8,275.2 114,273.6 112.5,271.7 111.3,269.5 110.4,267 109.7,264.4 109.5,261.6 109.5,258.7 109.9,255.7 110.6,252.8 111.6,249.9 113,247 114.5,244.4 116.4,241.9 118.4,239.7 120.7,237.7 123,236 125.5,234.7 128.1,233.7 130.6,233.1 133.1,232.9 135.6,233.1 137.9,233.6 140.1,234.6"/>
<polygon class="wf" points="130.2,248.6 148.8,240.5 159.1,250.4 151.2,270.1 129,279.6 125.8,266.4"/>
<polygon class="wf" points="130.2,248.6 148.8,240.5 137.7,234.1 119.1,242.1"/>
<polygon class="wf" points="148.8,240.5 159.1,250.4 148,244 137.7,234.1"/>
<polygon class="wf" points="159.1,250.4 151.2,270.1 140,263.7 148,244"/>
<polygon class="wf" points="151.2,270.1 129,279.6 117.9,273.2 140,263.7"/>
<polygon class="wf" points="129,279.6 125.8,266.4 114.7,260 117.9,273.2"/>
<polygon class="wf" points="125.8,266.4 130.2,248.6 119.1,242.1 114.7,260"/>
<polyline class="k" points="130.2,248.6 119.1,242.1"/>
<polyline class="k" points="148.8,240.5 137.7,234.1"/>
<polyline class="k" points="129,279.6 117.9,273.2"/>
<polyline class="k" points="125.8,266.4 114.7,260"/>
<polyline class="k" points="119.1,242.1 137.7,234.1"/>
<polyline class="k" points="117.9,273.2 114.7,260"/>
<polyline class="k" points="114.7,260 119.1,242.1"/>
<polygon class="k" points="130.2,248.6 148.8,240.5 159.1,250.4 151.2,270.1 129,279.6 125.8,266.4"/>
<path class="g" d="M122.4,264.5 C123.1,263.1 125.4,259 126.2,256.1 C126.9,253.1 126.8,248.2 126.9,246.6"/>
<path class="g" d="M119.1,262.6 C119.7,261.2 122.1,257.1 122.8,254.1 C123.6,251.2 123.4,246.3 123.6,244.7"/>
<path class="g" d="M125.7,277.7 C125.7,276.7 126.1,273.8 125.6,271.6 C125,269.4 123,265.7 122.4,264.5"/>
<path class="g" d="M122.4,275.8 C122.3,274.7 122.8,271.9 122.2,269.7 C121.7,267.5 119.6,263.8 119.1,262.6"/>
<polyline class="k" points="152.1,245.4 153.7,246.5 155.2,247.9 156.5,249.6 157.5,251.5 158.3,253.6 158.7,255.8 158.9,258.3 158.9,260.8 158.5,263.3 157.9,265.9 157,268.4 155.8,270.9 154.4,273.2 152.8,275.4 151.1,277.3 149.1,279.1 147.1,280.5 145,281.7 142.8,282.6 140.7,283.1 138.5,283.3 136.4,283.2 134.5,282.8 132.6,282 130.9,280.9 129.5,279.5 128.2,277.9 127.2,276 126.4,273.9 125.9,271.6 125.7,269.2 125.8,266.6 126.2,264.1 126.8,261.5 127.7,259 128.9,256.5 130.2,254.2 131.8,252.1 133.6,250.1 135.5,248.4 137.6,246.9 139.7,245.7 141.8,244.8 144,244.3 146.2,244.1 148.2,244.2 150.2,244.6 152.1,245.4"/>
<polygon class="wf" points="151.4,251.5 152.6,252.3 153.7,253.3 154.6,254.5 155.4,255.9 155.9,257.5 156.3,259.1 156.5,260.9 156.4,262.7 156.2,264.6 155.7,266.5 155,268.3 154.2,270.1 153.2,271.8 152,273.3 150.8,274.8 149.4,276 147.9,277.1 146.3,277.9 144.7,278.5 143.1,278.9 141.6,279.1 140,279 138.6,278.7 137.2,278.1 172.6,296.9 186.7,270.3"/>
<polyline class="k" points="137.2,278.1 136,277.3 134.9,276.3 134,275.1 133.2,273.7 132.7,272.1 132.3,270.5 132.1,268.7 132.2,266.9 132.4,265 132.9,263.1 133.6,261.3 134.4,259.5 135.4,257.8 136.6,256.3 137.8,254.8 139.2,253.6 140.7,252.5 142.3,251.7 143.9,251.1 145.5,250.7 147,250.5 148.6,250.6 150,250.9 151.4,251.5"/>
<polyline class="gd" points="151.4,251.5 152.6,252.3 153.7,253.3 154.6,254.5 155.4,255.9 155.9,257.5 156.3,259.1 156.5,260.9 156.4,262.7 156.2,264.6 155.7,266.5 155,268.3 154.2,270.1 153.2,271.8 152,273.3 150.8,274.8 149.4,276 147.9,277.1 146.3,277.9 144.7,278.5 143.1,278.9 141.6,279.1 140,279 138.6,278.7 137.2,278.1"/>
<polyline class="g" points="149.9,254.2 150.9,254.8 151.8,255.6 152.6,256.6 153.2,257.7 153.6,258.9 153.9,260.3 154,261.7 154,263.1 153.8,264.6 153.4,266.1 152.9,267.6 152.2,269 151.4,270.4 150.5,271.6 149.5,272.8 148.3,273.8 147.2,274.6 145.9,275.3 144.6,275.8 143.4,276.1 142.1,276.2 140.9,276.2 139.7,275.9 138.7,275.4 137.7,274.8 136.8,274 136,273 135.4,271.9 135,270.7 134.7,269.3 134.6,267.9 134.6,266.5 134.8,265 135.2,263.5 135.7,262 136.4,260.6 137.2,259.2 138.1,258 139.1,256.8 140.3,255.8 141.4,255 142.7,254.3 144,253.8 145.2,253.5 146.5,253.4 147.7,253.4 148.9,253.7 149.9,254.2"/>
<polygon class="wf" points="536.7,548.6 536.5,546.7 536.5,544.8 536.6,542.7 536.7,540.6 537,538.5 537.3,536.3 537.8,534 538.3,531.8 538.9,529.5 539.6,527.2 540.4,525 541.2,522.7 542.2,520.4 543.2,518.2 544.2,516.1 545.3,514 546.5,511.9 547.8,509.9 549,508 550.4,506.2 551.7,504.4 553.1,502.8 554.5,501.3 556,499.9 557.4,498.6 558.8,497.5 560.3,496.4 561.7,495.5 563.1,494.8 564.5,494.2 565.9,493.7 567.2,493.4 568.5,493.2 569.8,493.2 571,493.4 572.2,493.7 573.3,494.1 574.3,494.7 575.3,495.4 576.2,496.2 577,497.2 577.7,498.4 578.4,499.6 579,501 579.4,502.5 579.8,504.1 580.1,505.8 580.4,507.6 580.5,509.5 580.5,511.5"/>
<polyline class="k" points="536.7,548.6 536.5,546.7 536.5,544.8 536.6,542.7 536.7,540.6 537,538.5 537.3,536.3 537.8,534 538.3,531.8 538.9,529.5 539.6,527.2 540.4,525 541.2,522.7 542.2,520.4 543.2,518.2 544.2,516.1 545.3,514 546.5,511.9 547.8,509.9 549,508 550.4,506.2 551.7,504.4 553.1,502.8 554.5,501.3 556,499.9 557.4,498.6 558.8,497.5 560.3,496.4 561.7,495.5 563.1,494.8 564.5,494.2 565.9,493.7 567.2,493.4 568.5,493.2 569.8,493.2 571,493.4 572.2,493.7 573.3,494.1 574.3,494.7 575.3,495.4 576.2,496.2 577,497.2 577.7,498.4 578.4,499.6 579,501 579.4,502.5 579.8,504.1 580.1,505.8 580.4,507.6 580.5,509.5 580.5,511.5"/>
<polyline class="k" points="539.5,546.3 539.5,544.6 539.5,542.8 539.7,540.9 539.9,538.9 540.2,536.9 540.6,534.9 541,532.9 541.6,530.8 542.2,528.7 542.9,526.7 543.6,524.6 544.4,522.6 545.3,520.5 546.2,518.5 547.2,516.6 548.3,514.7 549.4,512.8 550.5,511.1 551.7,509.4 552.9,507.7 554.1,506.2 555.4,504.8 556.7,503.4 558,502.2 559.3,501 560.5,500 561.8,499.1 563.1,498.3 564.4,497.7 565.6,497.2 566.8,496.8 568,496.5 569.2,496.4 570.3,496.4 571.4,496.6 572.4,496.8 573.3,497.2 574.2,497.8 575.1,498.4 575.9,499.2 576.6,500.2 577.2,501.2 577.8,502.3 578.3,503.6 578.7,505 579,506.4 579.3,508 579.4,509.6 579.5,511.3 579.5,513.1"/>
<polygon class="wf" points="564.2,502 609.7,523.6 616.5,531 615.5,552 604,566 586.4,574.4 544.3,549.9 539.7,540 552.5,512.5"/>
<polyline class="k" points="564.2,502 552.5,512.5 539.7,540 544.3,549.9"/>
<polyline class="k" points="552.5,512.5 589.9,534.7"/>
<polyline class="k" points="564.2,502 609.7,523.6"/>
<polyline class="k" points="539.7,540 584,563.9"/>
<polyline class="k" points="544.3,549.9 586.4,574.4"/>
<polygon class="k" points="589.9,534.7 609.7,523.6 616.5,531 615.5,552 604,566 586.4,574.4 584,563.9"/>
<polyline class="gd" points="556,521 597,545"/>
<polyline class="gd" points="561,509 603,531"/>
<polyline class="gd" points="547,537 590,560"/>
<polyline class="gd" points="552,528 572,540"/>
<polyline class="g" points="579.8,532.1 578.6,534.2 577.3,536.1 575.9,537.9 574.3,539.4 572.6,540.7 570.9,541.8 569.2,542.5 567.5,543 565.9,543.1 564.3,542.9 562.8,542.4 561.5,541.6 560.4,540.5 559.4,539.2 558.6,537.6 558.1,535.8 557.8,533.8 557.7,531.7 557.9,529.6 558.3,527.3"/>
<polyline class="g" points="584.9,535.6 583.9,537.5 582.7,539.2 581.4,540.7 580,542.1 578.5,543.2 577,544.1 575.5,544.8 573.9,545.1 572.4,545.2 571,545.1 569.7,544.6 568.5,543.9 567.4,542.9 566.5,541.7 565.8,540.3 565.3,538.7 565,536.9 564.9,535.1 565.1,533.1 565.4,531.2"/>
<polyline class="g" points="556,511 562,522 566,518 571,530"/>
<polyline class="k" points="608,532.5 609.5,533.2 610.9,534.1 612.1,535.2 613.2,536.6 614.1,538.2 614.8,540 615.3,541.9 615.6,544 615.7,546.1 615.5,548.2 615.2,550.4 614.6,552.6 613.8,554.6 612.8,556.6 611.7,558.5 610.4,560.1 608.9,561.6 607.4,562.9 605.8,563.9 604.1,564.6 602.4,565.1 600.7,565.3 599,565.2 597.4,564.9 595.9,564.2 594.5,563.3 593.3,562.2 592.2,560.8 591.3,559.2 590.6,557.4 590.1,555.5 589.8,553.4 589.7,551.3 589.9,549.2 590.2,547 590.8,544.8 591.6,542.8 592.6,540.8 593.7,538.9 595,537.3 596.5,535.8 598,534.5 599.6,533.5 601.3,532.8 603,532.3 604.7,532.1 606.4,532.2 608,532.5"/>
<polyline class="k" points="608.5,534.8 609.8,535.3 611.1,536.2 612.2,537.2 613.2,538.5 614,539.9 614.6,541.5 615.1,543.3 615.3,545.1 615.4,547.1 615.2,549 614.9,551 614.4,553 613.6,554.9 612.7,556.7 611.7,558.3 610.5,559.9 609.2,561.2 607.8,562.4 606.4,563.3 604.9,564 603.4,564.4 601.8,564.6 600.3,564.6 598.9,564.2 597.6,563.7 596.3,562.8 595.2,561.8 594.2,560.5 593.4,559.1 592.8,557.5 592.3,555.7 592.1,553.9 592,551.9 592.2,550 592.5,548 593,546 593.8,544.1 594.7,542.3 595.7,540.7 596.9,539.1 598.2,537.8 599.6,536.6 601,535.7 602.5,535 604,534.6 605.6,534.4 607.1,534.4 608.5,534.8"/>
<polyline class="k" points="608.9,538.6 609.9,539.1 610.9,539.7 611.8,540.6 612.6,541.6 613.3,542.8 613.8,544.1 614.1,545.5 614.3,547 614.4,548.5 614.3,550.1 614,551.7 613.6,553.3 613,554.8 612.3,556.3 611.4,557.6 610.5,558.9 609.4,559.9 608.3,560.9 607.1,561.6 605.9,562.2 604.7,562.5 603.5,562.7 602.3,562.6 601.1,562.4 600.1,561.9 599.1,561.3 598.2,560.4 597.4,559.4 596.7,558.2 596.2,556.9 595.9,555.5 595.7,554 595.6,552.5 595.7,550.9 596,549.3 596.4,547.7 597,546.2 597.7,544.7 598.6,543.4 599.5,542.1 600.6,541.1 601.7,540.1 602.9,539.4 604.1,538.8 605.3,538.5 606.5,538.3 607.7,538.4 608.9,538.6"/>
<polygon class="wf" points="651.7,457.6 651.5,455.7 651.5,453.8 651.6,451.7 651.7,449.6 652,447.5 652.3,445.3 652.8,443 653.3,440.8 653.9,438.5 654.6,436.2 655.4,434 656.2,431.7 657.2,429.4 658.2,427.2 659.2,425.1 660.3,423 661.5,420.9 662.8,418.9 664,417 665.4,415.2 666.7,413.4 668.1,411.8 669.5,410.3 671,408.9 672.4,407.6 673.8,406.5 675.3,405.4 676.7,404.5 678.1,403.8 679.5,403.2 680.9,402.7 682.2,402.4 683.5,402.2 684.8,402.2 686,402.4 687.2,402.7 688.3,403.1 689.3,403.7 690.3,404.4 691.2,405.2 692,406.2 692.7,407.4 693.4,408.6 694,410 694.4,411.5 694.8,413.1 695.1,414.8 695.4,416.6 695.5,418.5 695.5,420.5"/>
<polyline class="k" points="651.7,457.6 651.5,455.7 651.5,453.8 651.6,451.7 651.7,449.6 652,447.5 652.3,445.3 652.8,443 653.3,440.8 653.9,438.5 654.6,436.2 655.4,434 656.2,431.7 657.2,429.4 658.2,427.2 659.2,425.1 660.3,423 661.5,420.9 662.8,418.9 664,417 665.4,415.2 666.7,413.4 668.1,411.8 669.5,410.3 671,408.9 672.4,407.6 673.8,406.5 675.3,405.4 676.7,404.5 678.1,403.8 679.5,403.2 680.9,402.7 682.2,402.4 683.5,402.2 684.8,402.2 686,402.4 687.2,402.7 688.3,403.1 689.3,403.7 690.3,404.4 691.2,405.2 692,406.2 692.7,407.4 693.4,408.6 694,410 694.4,411.5 694.8,413.1 695.1,414.8 695.4,416.6 695.5,418.5 695.5,420.5"/>
<polyline class="k" points="654.5,455.3 654.5,453.6 654.5,451.8 654.7,449.9 654.9,447.9 655.2,445.9 655.6,443.9 656,441.9 656.6,439.8 657.2,437.7 657.9,435.7 658.6,433.6 659.4,431.6 660.3,429.5 661.2,427.5 662.2,425.6 663.3,423.7 664.4,421.8 665.5,420.1 666.7,418.4 667.9,416.7 669.1,415.2 670.4,413.8 671.7,412.4 673,411.2 674.3,410 675.5,409 676.8,408.1 678.1,407.3 679.4,406.7 680.6,406.2 681.8,405.8 683,405.5 684.2,405.4 685.3,405.4 686.4,405.6 687.4,405.8 688.3,406.2 689.2,406.8 690.1,407.4 690.9,408.2 691.6,409.2 692.2,410.2 692.8,411.3 693.3,412.6 693.7,414 694,415.4 694.3,417 694.4,418.6 694.5,420.3 694.5,422.1"/>
<polygon class="wf" points="679.2,411 724.7,432.6 731.5,440 730.5,461 719,475 701.4,483.4 659.3,458.9 654.7,449 667.5,421.5"/>
<polyline class="k" points="679.2,411 667.5,421.5 654.7,449 659.3,458.9"/>
<polyline class="k" points="667.5,421.5 704.9,443.7"/>
<polyline class="k" points="679.2,411 724.7,432.6"/>
<polyline class="k" points="654.7,449 699,472.9"/>
<polyline class="k" points="659.3,458.9 701.4,483.4"/>
<polygon class="k" points="704.9,443.7 724.7,432.6 731.5,440 730.5,461 719,475 701.4,483.4 699,472.9"/>
<polyline class="gd" points="671,430 712,454"/>
<polyline class="gd" points="676,418 718,440"/>
<polyline class="gd" points="662,446 705,469"/>
<polyline class="gd" points="667,437 687,449"/>
<polyline class="g" points="694.8,441.1 693.6,443.2 692.3,445.1 690.9,446.9 689.3,448.4 687.6,449.7 685.9,450.8 684.2,451.5 682.5,452 680.9,452.1 679.3,451.9 677.8,451.4 676.5,450.6 675.4,449.5 674.4,448.2 673.6,446.6 673.1,444.8 672.8,442.8 672.7,440.7 672.9,438.6 673.3,436.3"/>
<polyline class="g" points="699.9,444.6 698.9,446.5 697.7,448.2 696.4,449.7 695,451.1 693.5,452.2 692,453.1 690.5,453.8 688.9,454.1 687.4,454.2 686,454.1 684.7,453.6 683.5,452.9 682.4,451.9 681.5,450.7 680.8,449.3 680.3,447.7 680,445.9 679.9,444.1 680.1,442.1 680.4,440.2"/>
<polyline class="g" points="671,420 677,431 681,427 686,439"/>
<polyline class="k" points="723,441.5 724.5,442.2 725.9,443.1 727.1,444.2 728.2,445.6 729.1,447.2 729.8,449 730.3,450.9 730.6,453 730.7,455.1 730.5,457.2 730.2,459.4 729.6,461.6 728.8,463.6 727.8,465.6 726.7,467.5 725.4,469.1 723.9,470.6 722.4,471.9 720.8,472.9 719.1,473.6 717.4,474.1 715.7,474.3 714,474.2 712.4,473.9 710.9,473.2 709.5,472.3 708.3,471.2 707.2,469.8 706.3,468.2 705.6,466.4 705.1,464.5 704.8,462.4 704.7,460.3 704.9,458.2 705.2,456 705.8,453.8 706.6,451.8 707.6,449.8 708.7,447.9 710,446.3 711.5,444.8 713,443.5 714.6,442.5 716.3,441.8 718,441.3 719.7,441.1 721.4,441.2 723,441.5"/>
<polyline class="k" points="723.5,443.8 724.8,444.3 726.1,445.2 727.2,446.2 728.2,447.5 729,448.9 729.6,450.5 730.1,452.3 730.3,454.1 730.4,456.1 730.2,458 729.9,460 729.4,462 728.6,463.9 727.7,465.7 726.7,467.3 725.5,468.9 724.2,470.2 722.8,471.4 721.4,472.3 719.9,473 718.4,473.4 716.8,473.6 715.3,473.6 713.9,473.2 712.6,472.7 711.3,471.8 710.2,470.8 709.2,469.5 708.4,468.1 707.8,466.5 707.3,464.7 707.1,462.9 707,460.9 707.2,459 707.5,457 708,455 708.8,453.1 709.7,451.3 710.7,449.7 711.9,448.1 713.2,446.8 714.6,445.6 716,444.7 717.5,444 719,443.6 720.6,443.4 722.1,443.4 723.5,443.8"/>
<polyline class="k" points="723.9,447.6 724.9,448.1 725.9,448.7 726.8,449.6 727.6,450.6 728.3,451.8 728.8,453.1 729.1,454.5 729.3,456 729.4,457.5 729.3,459.1 729,460.7 728.6,462.3 728,463.8 727.3,465.3 726.4,466.6 725.5,467.9 724.4,468.9 723.3,469.9 722.1,470.6 720.9,471.2 719.7,471.5 718.5,471.7 717.3,471.6 716.1,471.4 715.1,470.9 714.1,470.3 713.2,469.4 712.4,468.4 711.7,467.2 711.2,465.9 710.9,464.5 710.7,463 710.6,461.5 710.7,459.9 711,458.3 711.4,456.7 712,455.2 712.7,453.7 713.6,452.4 714.5,451.1 715.6,450.1 716.7,449.1 717.9,448.4 719.1,447.8 720.3,447.5 721.5,447.3 722.7,447.4 723.9,447.6"/>
<polyline class="k" points="265.8,191.3 584.6,367.3"/>
<polyline class="k" points="252.8,215.7 406.4,302.3"/>
<polyline class="k" points="151.3,251.6 469.8,447.6"/>
<polyline class="k" points="137.3,278.2 451.7,474.8"/>
<polygon class="wf" points="523,317.2 523.2,315.7 523.9,314.2 525.1,312.8 526.7,311.6 528.7,310.4 531,309.4 533.5,308.6 536.3,308.1 539.3,307.7 542.3,307.6 545.3,307.7 548.3,308.1 551.1,308.6 553.6,309.4 555.9,310.4 557.9,311.6 559.5,312.8 560.7,314.2 561.4,315.7 561.6,317.2 559.8,354.4 559.8,354.4 559.6,355.3 558.9,356.1 557.7,356.9 556.1,357.6 554.1,358.3 551.8,358.8 549.3,359.3 546.5,359.6 543.5,359.8 540.5,359.9 537.5,359.8 534.5,359.6 531.7,359.3 529.2,358.8 526.9,358.3 524.9,357.6 523.3,356.9 522.1,356.1 521.4,355.3 521.2,354.4 521.3,354.4"/>
<polygon class="wf" points="527.5,358 526.8,378.6 530.5,383.6 541.7,385.3 547.8,382.8 549.3,378.6 549.3,358"/>
<ellipse class="v" cx="542.3" cy="317.2" rx="19.3" ry="9.6" transform="rotate(0 542.3 317.2)"/>
<ellipse class="v" cx="542.9" cy="313.8" rx="4.9" ry="2.7" transform="rotate(0 542.9 313.8)"/>
<polyline class="v" points="538,313.8 538,316.3"/>
<polyline class="v" points="547.8,313.8 547.8,316.3"/>
<path class="v" d="M538,316.3 A4.9,2.7 0 0 0 547.8,316.3"/>
<polyline class="v" points="523,317.2 521.3,354.4"/>
<polyline class="v" points="561.6,317.2 559.8,354.4"/>
<path class="vt" d="M522.8,326.3 A19.3,4.6 0 0 0 561.5,326.3"/>
<path class="v" d="M522.4,332 A19.2,5 0 0 0 561.1,332"/>
<path class="vt" d="M521.8,343 A19.1,5.4 0 0 0 560.4,343"/>
<path class="v" d="M521.3,354.4 A19.3,5.2 0 0 0 559.8,354.4"/>
<polyline class="v" points="527.8,359.8 526.8,378.6 530.5,383.6 541.7,385.3 547.8,382.8 549.3,378.6 549.1,359.8"/>
<polyline class="v" points="530.5,377 530.5,383.6"/>
<polyline class="v" points="541.7,378 541.7,385.3"/>
<path class="v" d="M526.9,376 Q538,380.5 549.2,376"/>
<path class="g" d="M524,336.5 Q541,339.5 558,336.5"/>
<path class="g" d="M524,339.5 Q541,342.5 558,339.5"/>
<path class="g" d="M531,366 Q538,368 545,365"/>
<path class="g" d="M532,371 Q539,373 546,370"/>
</svg></body></html>
